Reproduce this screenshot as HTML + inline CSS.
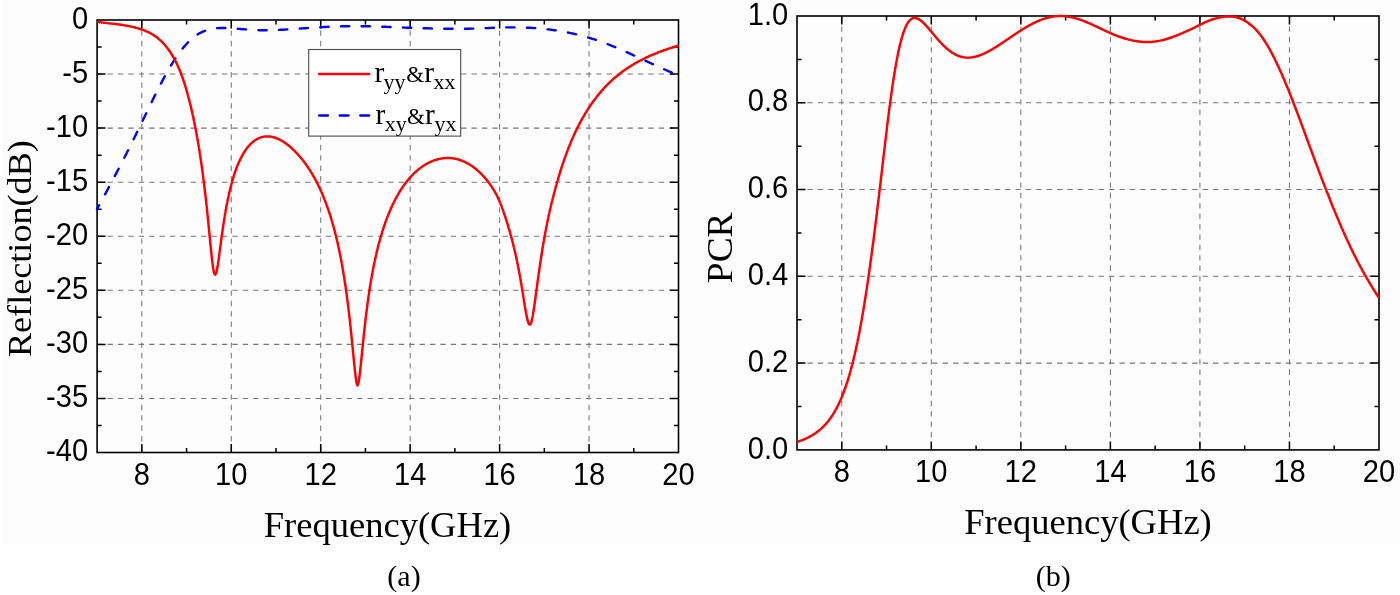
<!DOCTYPE html>
<html lang="en"><head><meta charset="utf-8"><title>Reflection and PCR</title>
<style>
html,body{margin:0;padding:0;background:#fff;}
body{width:1400px;height:595px;overflow:hidden;}
svg{display:block;}
.sa{font-family:"Liberation Sans",Arial,sans-serif;font-size:30.5px;fill:#000;}
.se{font-family:"Liberation Serif","Times New Roman",serif;fill:#000;}
</style></head><body>
<svg width="1400" height="595" viewBox="0 0 1400 595">
<rect width="1400" height="595" fill="#fff"/>
<rect x="2" y="0" width="1398" height="544.5" fill="#fdfdfd"/>
<path d="M141.82,20.0V452.5M231.27,20.0V452.5M320.72,20.0V452.5M410.16,20.0V452.5M499.61,20.0V452.5M589.05,20.0V452.5M97.1,74.06H678.5M97.1,128.12H678.5M97.1,182.19H678.5M97.1,236.25H678.5M97.1,290.31H678.5M97.1,344.38H678.5M97.1,398.44H678.5" stroke="#777" stroke-width="1.05" stroke-dasharray="5.4 5" fill="none"/>
<path d="M141.82,452.5v-8.5M141.82,20.0v8.5M231.27,452.5v-8.5M231.27,20.0v8.5M320.72,452.5v-8.5M320.72,20.0v8.5M410.16,452.5v-8.5M410.16,20.0v8.5M499.61,452.5v-8.5M499.61,20.0v8.5M589.05,452.5v-8.5M589.05,20.0v8.5M186.55,452.5v-4.5M186.55,20.0v4.5M275.99,452.5v-4.5M275.99,20.0v4.5M365.44,452.5v-4.5M365.44,20.0v4.5M454.88,452.5v-4.5M454.88,20.0v4.5M544.33,452.5v-4.5M544.33,20.0v4.5M633.78,452.5v-4.5M633.78,20.0v4.5M97.1,74.06h8.5M678.5,74.06h-8.5M97.1,128.12h8.5M678.5,128.12h-8.5M97.1,182.19h8.5M678.5,182.19h-8.5M97.1,236.25h8.5M678.5,236.25h-8.5M97.1,290.31h8.5M678.5,290.31h-8.5M97.1,344.38h8.5M678.5,344.38h-8.5M97.1,398.44h8.5M678.5,398.44h-8.5M97.1,47.03h4.5M678.5,47.03h-4.5M97.1,101.09h4.5M678.5,101.09h-4.5M97.1,155.16h4.5M678.5,155.16h-4.5M97.1,209.22h4.5M678.5,209.22h-4.5M97.1,263.28h4.5M678.5,263.28h-4.5M97.1,317.34h4.5M678.5,317.34h-4.5M97.1,371.41h4.5M678.5,371.41h-4.5M97.1,425.47h4.5M678.5,425.47h-4.5" stroke="#000" stroke-width="1.5" fill="none"/>
<rect x="97.1" y="20.0" width="581.4" height="432.5" fill="none" stroke="#000" stroke-width="1.6"/>
<path d="M97.1,209.1 L97.5,208.4 L97.9,207.7 L98.2,206.9 L98.6,206.2 L99.0,205.5 L99.4,204.8 L99.8,204.1 L100.1,203.4 L100.5,202.7 L100.9,202.0 L101.3,201.3 L101.7,200.6 L102.1,199.9 L102.4,199.2 L102.8,198.5 L103.2,197.8 L103.6,197.1 L104.0,196.4 L104.3,195.7 L104.7,195.0 L105.1,194.3 L105.5,193.6 L105.8,192.9 L106.2,192.2 L106.6,191.5 L107.0,190.8 L107.4,190.1 L107.7,189.3 L108.1,188.6 L108.5,187.9 L108.9,187.2 L109.2,186.5 L109.6,185.8 L110.0,185.1 L110.4,184.4 L110.8,183.7 L111.1,183.0 L111.5,182.3 L111.9,181.6 L112.3,180.9 L112.6,180.2 L113.0,179.5 L113.4,178.8 L113.8,178.0 L114.1,177.3 L114.5,176.6 L114.9,175.9 L115.2,175.2 L115.6,174.5 L116.0,173.8 L116.4,173.1 L116.7,172.4 L117.1,171.7 L117.5,171.0 L117.8,170.3 L118.2,169.5 L118.6,168.8 L119.0,168.1 L119.3,167.4 L119.7,166.7 L120.1,166.0 L120.4,165.3 L120.8,164.6 L121.2,163.9 L121.5,163.2 L121.9,162.4 L122.3,161.7 L122.6,161.0 L123.0,160.3 L123.4,159.6 L123.7,158.9 L124.1,158.2 L124.4,157.5 L124.8,156.7 L125.2,156.0 L125.5,155.3 L125.9,154.6 L126.3,153.9 L126.6,153.2 L127.0,152.5 L127.3,151.7 L127.7,151.0 L128.1,150.3 L128.4,149.6 L128.8,148.9 L129.1,148.2 L129.5,147.5 L129.8,146.7 L130.2,146.0 L130.6,145.3 L130.9,144.6 L131.3,143.9 L131.6,143.2 L132.0,142.4 L132.3,141.7 L132.7,141.0 L133.1,140.3 L133.4,139.6 L133.8,138.9 L134.1,138.1 L134.5,137.4 L134.8,136.7 L135.2,136.0 L135.5,135.3 L135.9,134.6 L136.2,133.8 L136.6,133.1 L136.9,132.4 L137.3,131.7 L137.6,131.0 L138.0,130.2 L138.3,129.5 L138.7,128.8 L139.0,128.1 L139.4,127.4 L139.7,126.6 L140.1,125.9 L140.4,125.2 L140.8,124.5 L141.1,123.8 L141.5,123.0 L141.8,122.3 L142.2,121.6 L142.5,120.9 L142.9,120.2 L143.2,119.4 L143.6,118.7 L143.9,118.0 L144.3,117.3 L144.6,116.6 L145.0,115.8 L145.3,115.1 L145.7,114.4 L146.0,113.7 L146.4,113.0 L146.7,112.2 L147.1,111.5 L147.4,110.8 L147.8,110.1 L148.1,109.4 L148.5,108.6 L148.8,107.9 L149.2,107.2 L149.5,106.5 L149.9,105.8 L150.2,105.0 L150.6,104.3 L150.9,103.6 L151.3,102.9 L151.6,102.2 L152.0,101.5 L152.3,100.7 L152.7,100.0 L153.0,99.3 L153.4,98.6 L153.7,97.9 L154.1,97.1 L154.4,96.4 L154.8,95.7 L155.1,95.0 L155.5,94.3 L155.9,93.6 L156.2,92.8 L156.6,92.1 L156.9,91.4 L157.3,90.7 L157.7,90.0 L158.0,89.3 L158.4,88.6 L158.7,87.9 L159.1,87.1 L159.5,86.4 L159.8,85.7 L160.2,85.0 L160.6,84.3 L160.9,83.6 L161.3,82.9 L161.7,82.2 L162.1,81.5 L162.4,80.7 L162.8,80.0 L163.2,79.3 L163.6,78.6 L163.9,77.9 L164.3,77.2 L164.7,76.5 L165.1,75.8 L165.5,75.1 L165.8,74.4 L166.2,73.7 L166.6,73.0 L167.0,72.3 L167.4,71.6 L167.8,70.9 L168.2,70.2 L168.6,69.5 L169.0,68.8 L169.4,68.2 L169.8,67.5 L170.2,66.8 L170.6,66.1 L171.0,65.4 L171.4,64.7 L171.9,64.0 L172.3,63.3 L172.7,62.7 L173.1,62.0 L173.6,61.3 L174.0,60.6 L174.4,60.0 L174.8,59.3 L175.3,58.6 L175.7,58.0 L176.2,57.3 L176.6,56.6 L177.1,56.0 L177.5,55.3 L178.0,54.7 L178.4,54.0 L178.9,53.4 L179.4,52.7 L179.9,52.1 L180.3,51.4 L180.8,50.8 L181.3,50.1 L181.8,49.5 L182.3,48.9 L182.8,48.3 L183.3,47.6 L183.8,47.0 L184.3,46.4 L184.9,45.8 L185.4,45.2 L185.9,44.6 L186.5,44.0 L187.0,43.4 L187.5,42.9 L188.1,42.3 L188.7,41.7 L189.2,41.2 L189.8,40.6 L190.4,40.1 L191.0,39.5 L191.6,39.0 L192.2,38.5 L192.8,38.0 L193.4,37.5 L194.1,37.0 L194.7,36.5 L195.3,36.0 L196.0,35.5 L196.7,35.1 L197.3,34.6 L198.0,34.2 L198.7,33.8 L199.4,33.4 L200.1,33.0 L200.8,32.6 L201.5,32.3 L202.2,31.9 L202.9,31.6 L203.7,31.3 L204.4,31.0 L205.2,30.7 L205.9,30.4 L206.7,30.2 L207.4,29.9 L208.2,29.7 L209.0,29.5 L209.8,29.3 L210.5,29.1 L211.3,28.9 L212.1,28.8 L212.9,28.7 L213.7,28.5 L214.5,28.4 L215.3,28.3 L216.1,28.3 L216.9,28.2 L217.7,28.1 L218.5,28.1 L219.3,28.0 L220.1,28.0 L220.9,28.0 L221.7,28.0 L222.3,28.0 L222.5,28.0 L223.3,28.0 L224.1,28.0 L224.9,28.0 L225.7,28.0 L226.5,28.1 L227.3,28.1 L228.1,28.1 L228.9,28.2 L229.7,28.2 L230.5,28.3 L231.2,28.3 L232.0,28.4 L232.8,28.4 L233.6,28.5 L234.4,28.5 L235.2,28.6 L236.0,28.7 L236.8,28.7 L237.6,28.8 L238.4,28.9 L239.2,28.9 L240.0,29.0 L240.8,29.0 L241.6,29.1 L242.4,29.2 L243.2,29.2 L244.0,29.3 L244.8,29.4 L245.6,29.4 L246.4,29.5 L247.2,29.6 L248.0,29.6 L248.8,29.7 L249.6,29.7 L250.4,29.8 L251.2,29.8 L252.0,29.9 L252.8,29.9 L253.6,30.0 L254.4,30.0 L255.2,30.0 L256.0,30.1 L256.8,30.1 L257.6,30.1 L258.4,30.1 L259.2,30.2 L260.0,30.2 L260.8,30.2 L261.6,30.2 L262.4,30.2 L263.2,30.2 L264.0,30.2 L264.6,30.2 L264.8,30.2 L265.6,30.2 L266.4,30.2 L267.2,30.2 L268.0,30.2 L268.8,30.2 L269.6,30.2 L270.4,30.2 L271.2,30.1 L272.0,30.1 L272.8,30.1 L273.6,30.1 L274.4,30.1 L275.2,30.0 L276.0,30.0 L276.8,30.0 L277.6,29.9 L278.4,29.9 L279.2,29.9 L280.0,29.8 L280.8,29.8 L281.6,29.7 L282.4,29.7 L283.2,29.7 L284.0,29.6 L284.8,29.6 L285.6,29.5 L286.4,29.5 L287.2,29.4 L288.0,29.4 L288.8,29.3 L289.6,29.3 L290.4,29.2 L291.2,29.2 L292.0,29.1 L292.8,29.1 L293.6,29.0 L294.4,29.0 L295.1,28.9 L295.9,28.9 L296.7,28.8 L297.5,28.8 L298.3,28.7 L299.1,28.6 L299.9,28.6 L300.7,28.5 L301.5,28.5 L302.3,28.4 L303.1,28.4 L303.9,28.3 L304.7,28.3 L305.5,28.2 L306.3,28.1 L307.1,28.1 L307.9,28.0 L308.7,28.0 L309.5,27.9 L310.3,27.9 L311.1,27.8 L311.9,27.8 L312.7,27.7 L313.5,27.7 L314.3,27.6 L315.1,27.6 L315.9,27.5 L316.7,27.5 L317.5,27.4 L318.3,27.4 L319.1,27.3 L319.9,27.3 L320.7,27.2 L321.5,27.2 L322.3,27.1 L323.1,27.1 L323.9,27.0 L324.7,27.0 L325.5,27.0 L326.3,26.9 L327.1,26.9 L327.9,26.8 L328.7,26.8 L329.5,26.8 L330.3,26.7 L331.1,26.7 L331.9,26.7 L332.7,26.6 L333.5,26.6 L334.3,26.6 L335.1,26.5 L335.9,26.5 L336.7,26.5 L337.5,26.5 L338.3,26.4 L339.1,26.4 L339.9,26.4 L340.7,26.4 L341.5,26.3 L342.3,26.3 L343.1,26.3 L343.9,26.3 L344.7,26.3 L345.5,26.3 L346.3,26.2 L347.1,26.2 L347.9,26.2 L348.7,26.2 L349.5,26.2 L350.3,26.2 L351.1,26.2 L351.9,26.2 L352.7,26.2 L353.5,26.2 L354.3,26.2 L355.1,26.2 L355.2,26.2 L355.9,26.2 L356.7,26.2 L357.5,26.2 L358.3,26.2 L359.1,26.2 L359.9,26.2 L360.7,26.2 L361.5,26.2 L362.3,26.2 L363.1,26.2 L363.9,26.2 L364.7,26.3 L365.5,26.3 L366.3,26.3 L367.1,26.3 L367.9,26.3 L368.7,26.3 L369.5,26.3 L370.3,26.4 L371.1,26.4 L371.9,26.4 L372.7,26.4 L373.5,26.4 L374.3,26.5 L375.1,26.5 L375.9,26.5 L376.7,26.5 L377.5,26.6 L378.3,26.6 L379.1,26.6 L379.9,26.6 L380.7,26.7 L381.5,26.7 L382.3,26.7 L383.1,26.8 L383.9,26.8 L384.7,26.8 L385.5,26.8 L386.3,26.9 L387.1,26.9 L387.9,26.9 L388.7,27.0 L389.5,27.0 L390.3,27.0 L391.1,27.1 L391.9,27.1 L392.7,27.1 L393.5,27.2 L394.3,27.2 L395.1,27.2 L395.9,27.2 L396.7,27.3 L397.5,27.3 L398.3,27.3 L399.1,27.4 L399.9,27.4 L400.7,27.4 L401.5,27.5 L402.2,27.5 L403.0,27.5 L403.8,27.6 L404.6,27.6 L405.4,27.6 L406.2,27.6 L407.0,27.7 L407.8,27.7 L408.6,27.7 L409.4,27.8 L410.2,27.8 L411.0,27.8 L411.8,27.8 L412.6,27.9 L413.4,27.9 L414.2,27.9 L415.0,28.0 L415.8,28.0 L416.6,28.0 L417.4,28.0 L418.2,28.1 L419.0,28.1 L419.8,28.1 L420.6,28.1 L421.4,28.2 L422.2,28.2 L423.0,28.2 L423.8,28.2 L424.6,28.3 L425.4,28.3 L426.2,28.3 L427.0,28.3 L427.8,28.3 L428.6,28.4 L429.4,28.4 L430.2,28.4 L431.0,28.4 L431.8,28.5 L432.6,28.5 L433.4,28.5 L434.2,28.5 L435.0,28.5 L435.8,28.6 L436.6,28.6 L437.4,28.6 L438.2,28.6 L439.0,28.6 L439.8,28.6 L440.6,28.7 L441.4,28.7 L442.2,28.7 L443.0,28.7 L443.8,28.7 L444.6,28.7 L445.4,28.7 L446.2,28.7 L447.0,28.8 L447.8,28.8 L448.6,28.8 L449.4,28.8 L450.2,28.8 L451.0,28.8 L451.8,28.8 L452.6,28.8 L453.4,28.8 L454.2,28.8 L455.0,28.8 L455.6,28.8 L455.8,28.8 L456.6,28.8 L457.4,28.8 L458.2,28.8 L459.0,28.8 L459.8,28.8 L460.6,28.8 L461.4,28.8 L462.2,28.8 L463.0,28.8 L463.8,28.8 L464.6,28.7 L465.4,28.7 L466.2,28.7 L467.0,28.7 L467.8,28.7 L468.6,28.7 L469.4,28.7 L470.2,28.6 L471.0,28.6 L471.8,28.6 L472.6,28.6 L473.4,28.6 L474.2,28.5 L475.0,28.5 L475.8,28.5 L476.6,28.5 L477.4,28.5 L478.2,28.4 L479.0,28.4 L479.8,28.4 L480.6,28.3 L481.4,28.3 L482.2,28.3 L483.0,28.3 L483.8,28.2 L484.6,28.2 L485.4,28.2 L486.2,28.1 L487.0,28.1 L487.8,28.1 L488.6,28.0 L489.4,28.0 L490.2,28.0 L491.0,27.9 L491.8,27.9 L492.6,27.9 L493.4,27.8 L494.2,27.8 L495.0,27.8 L495.8,27.7 L496.6,27.7 L497.4,27.7 L498.2,27.7 L499.0,27.6 L499.8,27.6 L500.6,27.6 L501.4,27.5 L502.2,27.5 L503.0,27.5 L503.8,27.5 L504.6,27.5 L505.4,27.4 L506.2,27.4 L507.0,27.4 L507.8,27.4 L508.6,27.4 L509.4,27.4 L510.2,27.4 L511.0,27.4 L511.8,27.4 L512.6,27.4 L513.2,27.4 L513.4,27.4 L514.2,27.4 L515.0,27.4 L515.8,27.4 L516.6,27.4 L517.4,27.4 L518.2,27.4 L519.0,27.4 L519.8,27.4 L520.6,27.4 L521.4,27.5 L522.2,27.5 L523.0,27.5 L523.8,27.5 L524.6,27.6 L525.4,27.6 L526.2,27.6 L527.0,27.7 L527.8,27.7 L528.6,27.7 L529.4,27.8 L530.2,27.8 L531.0,27.9 L531.8,27.9 L532.6,28.0 L533.4,28.0 L534.2,28.1 L535.0,28.1 L535.8,28.2 L536.6,28.2 L537.4,28.3 L538.2,28.4 L539.0,28.4 L539.8,28.5 L540.6,28.6 L541.4,28.7 L542.2,28.7 L543.0,28.8 L543.8,28.9 L544.6,29.0 L545.3,29.1 L546.1,29.2 L546.9,29.3 L547.7,29.4 L548.5,29.4 L549.3,29.5 L550.1,29.6 L550.9,29.7 L551.7,29.9 L552.5,30.0 L553.3,30.1 L554.1,30.2 L554.9,30.3 L555.7,30.4 L556.5,30.5 L557.2,30.6 L558.0,30.8 L558.8,30.9 L559.6,31.0 L560.4,31.1 L561.2,31.3 L562.0,31.4 L562.8,31.5 L563.6,31.7 L564.3,31.8 L565.1,32.0 L565.9,32.1 L566.7,32.3 L567.5,32.4 L568.3,32.6 L569.1,32.7 L569.8,32.9 L570.6,33.1 L571.4,33.2 L572.2,33.4 L573.0,33.6 L573.8,33.7 L574.5,33.9 L575.3,34.1 L576.1,34.3 L576.9,34.5 L577.6,34.6 L578.4,34.8 L579.2,35.0 L580.0,35.2 L580.7,35.4 L581.5,35.6 L582.3,35.8 L583.1,36.0 L583.8,36.3 L584.6,36.5 L585.4,36.7 L586.1,36.9 L586.9,37.1 L587.7,37.4 L588.5,37.6 L589.2,37.8 L590.0,38.0 L590.7,38.3 L591.5,38.5 L592.3,38.8 L593.0,39.0 L593.8,39.2 L594.6,39.5 L595.3,39.7 L596.1,40.0 L596.8,40.3 L597.6,40.5 L598.4,40.8 L599.1,41.0 L599.9,41.3 L600.6,41.6 L601.4,41.8 L602.1,42.1 L602.9,42.4 L603.6,42.7 L604.4,42.9 L605.1,43.2 L605.9,43.5 L606.6,43.8 L607.4,44.1 L608.1,44.3 L608.9,44.6 L609.6,44.9 L610.4,45.2 L611.1,45.5 L611.8,45.8 L612.6,46.1 L613.3,46.4 L614.1,46.7 L614.8,47.0 L615.5,47.3 L616.3,47.6 L617.0,47.9 L617.8,48.3 L618.5,48.6 L619.2,48.9 L620.0,49.2 L620.7,49.5 L621.4,49.8 L622.2,50.1 L622.9,50.5 L623.6,50.8 L624.4,51.1 L625.1,51.4 L625.8,51.8 L626.6,52.1 L627.3,52.4 L628.0,52.7 L628.7,53.1 L629.5,53.4 L630.2,53.7 L630.9,54.1 L631.7,54.4 L632.4,54.7 L633.1,55.1 L633.8,55.4 L634.6,55.7 L635.3,56.1 L636.0,56.4 L636.8,56.7 L637.5,57.1 L638.2,57.4 L638.9,57.7 L639.7,58.1 L640.4,58.4 L641.1,58.7 L641.8,59.1 L642.6,59.4 L643.3,59.8 L644.0,60.1 L644.7,60.4 L645.5,60.8 L646.2,61.1 L646.9,61.4 L647.6,61.8 L648.4,62.1 L649.1,62.4 L649.8,62.8 L650.5,63.1 L651.3,63.4 L652.0,63.8 L652.7,64.1 L653.5,64.4 L654.2,64.8 L654.9,65.1 L655.6,65.4 L656.4,65.8 L657.1,66.1 L657.8,66.4 L658.6,66.8 L659.3,67.1 L660.0,67.4 L660.7,67.7 L661.5,68.1 L662.2,68.4 L662.9,68.7 L663.7,69.0 L664.4,69.4 L665.1,69.7 L665.9,70.0 L666.6,70.3 L667.3,70.6 L668.1,71.0 L668.8,71.3 L669.5,71.6 L670.3,71.9 L671.0,72.2 L671.7,72.5 L672.5,72.8 L673.2,73.2 L674.0,73.5 L674.7,73.8 L675.4,74.1 L676.2,74.4 L676.9,74.7 L677.6,75.0 L678.4,75.4 L678.5,75.4" fill="none" stroke="#0000ff" stroke-width="2.4" stroke-dasharray="8.3 12.4" stroke-dashoffset="3.88" stroke-linecap="round" stroke-linejoin="round"/>
<path d="M97.1,21.9 L97.9,22.0 L98.7,22.1 L99.5,22.2 L100.3,22.3 L101.1,22.4 L101.9,22.5 L102.7,22.6 L103.5,22.7 L104.3,22.8 L105.0,22.8 L105.8,22.9 L106.6,23.0 L107.4,23.1 L108.2,23.2 L109.0,23.3 L109.8,23.4 L110.6,23.5 L111.4,23.6 L112.2,23.6 L113.0,23.7 L113.8,23.8 L114.6,23.9 L115.4,24.0 L116.2,24.1 L117.0,24.2 L117.8,24.3 L118.6,24.4 L119.3,24.5 L120.1,24.7 L120.9,24.8 L121.7,24.9 L122.5,25.0 L123.3,25.1 L124.1,25.3 L124.9,25.4 L125.7,25.5 L126.5,25.7 L127.2,25.8 L128.0,25.9 L128.8,26.1 L129.6,26.3 L130.4,26.4 L131.2,26.6 L132.0,26.8 L132.7,26.9 L133.5,27.1 L134.3,27.3 L135.1,27.5 L135.8,27.7 L136.6,27.9 L137.4,28.1 L138.2,28.3 L138.9,28.6 L139.7,28.8 L140.4,29.0 L141.2,29.3 L142.0,29.5 L142.7,29.8 L143.5,30.1 L144.2,30.4 L145.0,30.7 L145.7,31.0 L146.4,31.3 L147.2,31.6 L147.9,31.9 L148.6,32.3 L149.3,32.7 L150.0,33.0 L150.7,33.4 L151.4,33.8 L152.1,34.2 L152.8,34.6 L153.5,35.0 L154.2,35.5 L154.8,35.9 L155.5,36.4 L156.1,36.9 L156.8,37.3 L157.4,37.8 L158.0,38.3 L158.6,38.8 L159.2,39.4 L159.8,39.9 L160.4,40.4 L161.0,41.0 L161.6,41.5 L162.2,42.1 L162.7,42.7 L163.3,43.3 L163.8,43.8 L164.3,44.4 L164.9,45.0 L165.4,45.6 L165.9,46.3 L166.4,46.9 L166.9,47.5 L167.4,48.1 L167.9,48.8 L168.4,49.4 L168.8,50.1 L169.3,50.7 L169.7,51.4 L170.2,52.0 L170.6,52.7 L171.1,53.4 L171.5,54.1 L171.9,54.7 L172.3,55.4 L172.7,56.1 L173.1,56.8 L173.5,57.5 L173.9,58.2 L174.3,58.9 L174.7,59.6 L175.1,60.3 L175.4,61.0 L175.8,61.7 L176.2,62.4 L176.5,63.2 L176.9,63.9 L177.2,64.6 L177.5,65.3 L177.9,66.1 L178.2,66.8 L178.5,67.5 L178.8,68.3 L179.2,69.0 L179.5,69.7 L179.8,70.5 L180.1,71.2 L180.4,71.9 L180.7,72.7 L181.0,73.4 L181.2,74.2 L181.5,74.9 L181.8,75.7 L182.1,76.4 L182.3,77.2 L182.6,77.9 L182.9,78.7 L183.1,79.5 L183.4,80.2 L183.7,81.0 L183.9,81.7 L184.2,82.5 L184.4,83.2 L184.6,84.0 L184.9,84.8 L185.1,85.5 L185.4,86.3 L185.6,87.1 L185.8,87.8 L186.1,88.6 L186.3,89.4 L186.5,90.1 L186.7,90.9 L186.9,91.7 L187.2,92.4 L187.4,93.2 L187.6,94.0 L187.8,94.8 L188.0,95.5 L188.2,96.3 L188.4,97.1 L188.6,97.8 L188.8,98.6 L189.0,99.4 L189.2,100.2 L189.4,100.9 L189.6,101.7 L189.8,102.5 L190.0,103.3 L190.2,104.1 L190.4,104.8 L190.6,105.6 L190.8,106.4 L190.9,107.2 L191.1,107.9 L191.3,108.7 L191.5,109.5 L191.7,110.3 L191.8,111.1 L192.0,111.8 L192.2,112.6 L192.4,113.4 L192.5,114.2 L192.7,115.0 L192.9,115.7 L193.1,116.5 L193.2,117.3 L193.4,118.1 L193.6,118.9 L193.7,119.7 L193.9,120.4 L194.0,121.2 L194.2,122.0 L194.4,122.8 L194.5,123.6 L194.7,124.4 L194.8,125.1 L195.0,125.9 L195.2,126.7 L195.3,127.5 L195.5,128.3 L195.6,129.1 L195.8,129.9 L195.9,130.6 L196.1,131.4 L196.2,132.2 L196.4,133.0 L196.5,133.8 L196.6,134.6 L196.8,135.4 L196.9,136.1 L197.1,136.9 L197.2,137.7 L197.4,138.5 L197.5,139.3 L197.6,140.1 L197.8,140.9 L197.9,141.7 L198.0,142.5 L198.2,143.2 L198.3,144.0 L198.4,144.8 L198.6,145.6 L198.7,146.4 L198.8,147.2 L199.0,148.0 L199.1,148.8 L199.2,149.6 L199.3,150.3 L199.5,151.1 L199.6,151.9 L199.7,152.7 L199.8,153.5 L200.0,154.3 L200.1,155.1 L200.2,155.9 L200.3,156.7 L200.5,157.5 L200.6,158.2 L200.7,159.0 L200.8,159.8 L200.9,160.6 L201.0,161.4 L201.2,162.2 L201.3,163.0 L201.4,163.8 L201.5,164.6 L201.6,165.4 L201.7,166.2 L201.8,167.0 L201.9,167.8 L202.1,168.5 L202.2,169.3 L202.3,170.1 L202.4,170.9 L202.5,171.7 L202.6,172.5 L202.7,173.3 L202.8,174.1 L202.9,174.9 L203.0,175.7 L203.1,176.5 L203.2,177.3 L203.3,178.1 L203.4,178.9 L203.5,179.6 L203.6,180.4 L203.7,181.2 L203.8,182.0 L203.9,182.8 L204.0,183.6 L204.1,184.4 L204.2,185.2 L204.3,186.0 L204.4,186.8 L204.5,187.6 L204.6,188.4 L204.7,189.2 L204.8,190.0 L204.9,190.8 L205.0,191.6 L205.1,192.4 L205.2,193.1 L205.3,193.9 L205.4,194.7 L205.5,195.5 L205.5,196.3 L205.6,197.1 L205.7,197.9 L205.8,198.7 L205.9,199.5 L206.0,200.3 L206.1,201.1 L206.2,201.9 L206.3,202.7 L206.3,203.5 L206.4,204.3 L206.5,205.1 L206.6,205.9 L206.7,206.7 L206.8,207.5 L206.9,208.3 L206.9,209.0 L207.0,209.8 L207.1,210.6 L207.2,211.4 L207.3,212.2 L207.4,213.0 L207.4,213.8 L207.5,214.6 L207.6,215.4 L207.7,216.2 L207.8,217.0 L207.8,217.8 L207.9,218.6 L208.0,219.4 L208.1,220.2 L208.2,221.0 L208.2,221.8 L208.3,222.6 L208.4,223.4 L208.5,224.2 L208.6,225.0 L208.6,225.8 L208.7,226.6 L208.8,227.4 L208.9,228.2 L208.9,228.9 L209.0,229.7 L209.1,230.5 L209.2,231.3 L209.3,232.1 L209.3,232.9 L209.4,233.7 L209.5,234.5 L209.6,235.3 L209.6,236.1 L209.7,236.9 L209.8,237.7 L209.9,238.5 L210.0,239.3 L210.0,240.1 L210.1,240.9 L210.2,241.7 L210.3,242.5 L210.3,243.3 L210.4,244.1 L210.5,244.9 L210.6,245.7 L210.7,246.5 L210.7,247.3 L210.8,248.1 L210.9,248.9 L211.0,249.6 L211.1,250.4 L211.1,251.2 L211.2,252.0 L211.3,252.8 L211.4,253.6 L211.5,254.4 L211.5,255.2 L211.6,256.0 L211.7,256.8 L211.8,257.6 L211.9,258.4 L212.0,259.2 L212.1,260.0 L212.2,260.8 L212.3,261.6 L212.4,262.4 L212.5,263.2 L212.6,264.0 L212.7,264.8 L212.8,265.5 L212.9,266.3 L213.0,267.1 L213.1,267.9 L213.2,268.7 L213.4,269.5 L213.5,270.3 L213.7,271.1 L213.8,271.9 L214.0,272.6 L214.3,273.4 L214.6,274.1 L215.2,274.6 L215.2,274.6 L215.7,274.0 L216.1,273.3 L216.3,272.6 L216.5,271.8 L216.7,271.0 L216.9,270.2 L217.1,269.4 L217.2,268.7 L217.3,267.9 L217.5,267.1 L217.6,266.3 L217.7,265.5 L217.9,264.7 L218.0,263.9 L218.1,263.1 L218.2,262.3 L218.3,261.5 L218.5,260.8 L218.6,260.0 L218.7,259.2 L218.8,258.4 L218.9,257.6 L219.0,256.8 L219.1,256.0 L219.2,255.2 L219.3,254.4 L219.4,253.6 L219.5,252.8 L219.6,252.0 L219.7,251.2 L219.8,250.5 L219.9,249.7 L220.0,248.9 L220.2,248.1 L220.3,247.3 L220.4,246.5 L220.5,245.7 L220.6,244.9 L220.7,244.1 L220.8,243.3 L220.9,242.5 L221.0,241.7 L221.1,240.9 L221.2,240.1 L221.3,239.3 L221.4,238.6 L221.5,237.8 L221.6,237.0 L221.7,236.2 L221.8,235.4 L222.0,234.6 L222.1,233.8 L222.2,233.0 L222.3,232.2 L222.4,231.4 L222.5,230.6 L222.6,229.8 L222.7,229.0 L222.9,228.3 L223.0,227.5 L223.1,226.7 L223.2,225.9 L223.3,225.1 L223.4,224.3 L223.6,223.5 L223.7,222.7 L223.8,221.9 L223.9,221.1 L224.1,220.3 L224.2,219.6 L224.3,218.8 L224.4,218.0 L224.6,217.2 L224.7,216.4 L224.8,215.6 L225.0,214.8 L225.1,214.0 L225.2,213.2 L225.4,212.5 L225.5,211.7 L225.6,210.9 L225.8,210.1 L225.9,209.3 L226.1,208.5 L226.2,207.7 L226.3,206.9 L226.5,206.2 L226.6,205.4 L226.8,204.6 L226.9,203.8 L227.1,203.0 L227.3,202.2 L227.4,201.4 L227.6,200.7 L227.7,199.9 L227.9,199.1 L228.1,198.3 L228.2,197.5 L228.4,196.7 L228.6,196.0 L228.7,195.2 L228.9,194.4 L229.1,193.6 L229.3,192.8 L229.4,192.1 L229.6,191.3 L229.8,190.5 L230.0,189.7 L230.2,188.9 L230.4,188.2 L230.6,187.4 L230.8,186.6 L231.0,185.8 L231.2,185.1 L231.4,184.3 L231.6,183.5 L231.8,182.8 L232.0,182.0 L232.2,181.2 L232.4,180.4 L232.7,179.7 L232.9,178.9 L233.1,178.1 L233.4,177.4 L233.6,176.6 L233.8,175.8 L234.1,175.1 L234.3,174.3 L234.6,173.6 L234.8,172.8 L235.1,172.1 L235.4,171.3 L235.6,170.5 L235.9,169.8 L236.2,169.0 L236.4,168.3 L236.7,167.5 L237.0,166.8 L237.3,166.0 L237.6,165.3 L237.9,164.6 L238.2,163.8 L238.5,163.1 L238.9,162.4 L239.2,161.6 L239.5,160.9 L239.9,160.2 L240.2,159.5 L240.5,158.7 L240.9,158.0 L241.3,157.3 L241.6,156.6 L242.0,155.9 L242.4,155.2 L242.8,154.5 L243.2,153.8 L243.6,153.1 L244.0,152.4 L244.5,151.8 L244.9,151.1 L245.3,150.4 L245.8,149.8 L246.3,149.1 L246.7,148.5 L247.2,147.8 L247.7,147.2 L248.2,146.6 L248.7,146.0 L249.3,145.4 L249.8,144.8 L250.4,144.2 L250.9,143.7 L251.5,143.1 L252.1,142.6 L252.7,142.0 L253.3,141.5 L254.0,141.1 L254.6,140.6 L255.3,140.1 L256.0,139.7 L256.6,139.3 L257.3,138.9 L258.1,138.6 L258.8,138.2 L259.5,137.9 L260.3,137.6 L261.0,137.4 L261.8,137.1 L262.6,136.9 L263.4,136.8 L264.1,136.6 L264.9,136.5 L265.7,136.5 L266.5,136.4 L267.3,136.4 L267.3,136.4 L268.1,136.4 L268.9,136.5 L269.7,136.5 L270.5,136.6 L271.3,136.8 L272.1,136.9 L272.9,137.1 L273.7,137.3 L274.4,137.5 L275.2,137.8 L275.9,138.0 L276.7,138.3 L277.4,138.6 L278.2,138.9 L278.9,139.3 L279.6,139.6 L280.3,140.0 L281.0,140.4 L281.7,140.7 L282.4,141.2 L283.1,141.6 L283.8,142.0 L284.4,142.4 L285.1,142.9 L285.7,143.4 L286.4,143.8 L287.0,144.3 L287.7,144.8 L288.3,145.3 L288.9,145.8 L289.5,146.3 L290.1,146.8 L290.7,147.3 L291.3,147.9 L291.9,148.4 L292.5,149.0 L293.1,149.5 L293.7,150.1 L294.3,150.6 L294.8,151.2 L295.4,151.7 L295.9,152.3 L296.5,152.9 L297.0,153.5 L297.6,154.1 L298.1,154.7 L298.7,155.3 L299.2,155.9 L299.7,156.5 L300.2,157.1 L300.7,157.7 L301.3,158.3 L301.8,158.9 L302.3,159.5 L302.8,160.2 L303.3,160.8 L303.7,161.4 L304.2,162.1 L304.7,162.7 L305.2,163.4 L305.7,164.0 L306.1,164.6 L306.6,165.3 L307.0,166.0 L307.5,166.6 L307.9,167.3 L308.4,167.9 L308.8,168.6 L309.3,169.3 L309.7,170.0 L310.1,170.6 L310.6,171.3 L311.0,172.0 L311.4,172.7 L311.8,173.4 L312.2,174.0 L312.6,174.7 L313.0,175.4 L313.4,176.1 L313.8,176.8 L314.2,177.5 L314.6,178.2 L315.0,178.9 L315.4,179.6 L315.7,180.3 L316.1,181.0 L316.5,181.7 L316.9,182.4 L317.2,183.2 L317.6,183.9 L317.9,184.6 L318.3,185.3 L318.6,186.0 L319.0,186.7 L319.3,187.5 L319.7,188.2 L320.0,188.9 L320.3,189.6 L320.7,190.4 L321.0,191.1 L321.3,191.8 L321.7,192.6 L322.0,193.3 L322.3,194.0 L322.6,194.8 L322.9,195.5 L323.2,196.2 L323.5,197.0 L323.8,197.7 L324.1,198.5 L324.4,199.2 L324.7,200.0 L325.0,200.7 L325.3,201.4 L325.6,202.2 L325.9,202.9 L326.1,203.7 L326.4,204.4 L326.7,205.2 L327.0,205.9 L327.2,206.7 L327.5,207.4 L327.8,208.2 L328.0,209.0 L328.3,209.7 L328.6,210.5 L328.8,211.2 L329.1,212.0 L329.3,212.7 L329.6,213.5 L329.8,214.3 L330.1,215.0 L330.3,215.8 L330.5,216.6 L330.8,217.3 L331.0,218.1 L331.2,218.9 L331.5,219.6 L331.7,220.4 L331.9,221.1 L332.2,221.9 L332.4,222.7 L332.6,223.5 L332.8,224.2 L333.0,225.0 L333.3,225.8 L333.5,226.5 L333.7,227.3 L333.9,228.1 L334.1,228.9 L334.3,229.6 L334.5,230.4 L334.7,231.2 L334.9,231.9 L335.1,232.7 L335.3,233.5 L335.5,234.3 L335.7,235.0 L335.9,235.8 L336.1,236.6 L336.3,237.4 L336.5,238.2 L336.6,238.9 L336.8,239.7 L337.0,240.5 L337.2,241.3 L337.4,242.1 L337.5,242.8 L337.7,243.6 L337.9,244.4 L338.1,245.2 L338.2,246.0 L338.4,246.7 L338.6,247.5 L338.8,248.3 L338.9,249.1 L339.1,249.9 L339.3,250.6 L339.4,251.4 L339.6,252.2 L339.7,253.0 L339.9,253.8 L340.1,254.6 L340.2,255.4 L340.4,256.1 L340.5,256.9 L340.7,257.7 L340.8,258.5 L341.0,259.3 L341.1,260.1 L341.3,260.8 L341.4,261.6 L341.6,262.4 L341.7,263.2 L341.9,264.0 L342.0,264.8 L342.1,265.6 L342.3,266.4 L342.4,267.1 L342.6,267.9 L342.7,268.7 L342.8,269.5 L343.0,270.3 L343.1,271.1 L343.2,271.9 L343.4,272.7 L343.5,273.5 L343.6,274.2 L343.7,275.0 L343.9,275.8 L344.0,276.6 L344.1,277.4 L344.3,278.2 L344.4,279.0 L344.5,279.8 L344.6,280.6 L344.7,281.4 L344.9,282.1 L345.0,282.9 L345.1,283.7 L345.2,284.5 L345.3,285.3 L345.5,286.1 L345.6,286.9 L345.7,287.7 L345.8,288.5 L345.9,289.3 L346.0,290.1 L346.1,290.9 L346.3,291.6 L346.4,292.4 L346.5,293.2 L346.6,294.0 L346.7,294.8 L346.8,295.6 L346.9,296.4 L347.0,297.2 L347.1,298.0 L347.2,298.8 L347.3,299.6 L347.4,300.4 L347.5,301.2 L347.6,302.0 L347.7,302.7 L347.8,303.5 L347.9,304.3 L348.0,305.1 L348.1,305.9 L348.2,306.7 L348.3,307.5 L348.4,308.3 L348.5,309.1 L348.6,309.9 L348.7,310.7 L348.8,311.5 L348.9,312.3 L349.0,313.1 L349.1,313.9 L349.2,314.7 L349.3,315.5 L349.4,316.3 L349.4,317.0 L349.5,317.8 L349.6,318.6 L349.7,319.4 L349.8,320.2 L349.9,321.0 L350.0,321.8 L350.1,322.6 L350.2,323.4 L350.2,324.2 L350.3,325.0 L350.4,325.8 L350.5,326.6 L350.6,327.4 L350.7,328.2 L350.7,329.0 L350.8,329.8 L350.9,330.6 L351.0,331.4 L351.1,332.2 L351.2,333.0 L351.2,333.7 L351.3,334.5 L351.4,335.3 L351.5,336.1 L351.6,336.9 L351.6,337.7 L351.7,338.5 L351.8,339.3 L351.9,340.1 L352.0,340.9 L352.0,341.7 L352.1,342.5 L352.2,343.3 L352.3,344.1 L352.4,344.9 L352.4,345.7 L352.5,346.5 L352.6,347.3 L352.7,348.1 L352.8,348.9 L352.8,349.7 L352.9,350.5 L353.0,351.3 L353.1,352.1 L353.1,352.9 L353.2,353.7 L353.3,354.4 L353.4,355.2 L353.4,356.0 L353.5,356.8 L353.6,357.6 L353.7,358.4 L353.8,359.2 L353.8,360.0 L353.9,360.8 L354.0,361.6 L354.1,362.4 L354.2,363.2 L354.2,364.0 L354.3,364.8 L354.4,365.6 L354.5,366.4 L354.6,367.2 L354.6,368.0 L354.7,368.8 L354.8,369.6 L354.9,370.4 L355.0,371.2 L355.1,372.0 L355.2,372.8 L355.3,373.5 L355.4,374.3 L355.5,375.1 L355.6,375.9 L355.7,376.7 L355.8,377.5 L355.9,378.3 L356.0,379.1 L356.1,379.9 L356.2,380.7 L356.4,381.5 L356.5,382.3 L356.7,383.0 L356.8,383.8 L357.1,384.6 L357.4,385.3 L357.4,385.4 L357.8,384.8 L358.1,384.1 L358.3,383.3 L358.5,382.5 L358.7,381.7 L358.8,380.9 L358.9,380.1 L359.1,379.4 L359.2,378.6 L359.3,377.8 L359.4,377.0 L359.5,376.2 L359.6,375.4 L359.7,374.6 L359.8,373.8 L359.9,373.0 L360.0,372.2 L360.1,371.4 L360.2,370.6 L360.3,369.8 L360.3,369.0 L360.4,368.2 L360.5,367.4 L360.6,366.7 L360.7,365.9 L360.8,365.1 L360.9,364.3 L360.9,363.5 L361.0,362.7 L361.1,361.9 L361.2,361.1 L361.3,360.3 L361.3,359.5 L361.4,358.7 L361.5,357.9 L361.6,357.1 L361.7,356.3 L361.7,355.5 L361.8,354.7 L361.9,353.9 L362.0,353.1 L362.1,352.3 L362.1,351.5 L362.2,350.7 L362.3,349.9 L362.4,349.1 L362.5,348.3 L362.5,347.5 L362.6,346.8 L362.7,346.0 L362.8,345.2 L362.9,344.4 L362.9,343.6 L363.0,342.8 L363.1,342.0 L363.2,341.2 L363.3,340.4 L363.4,339.6 L363.4,338.8 L363.5,338.0 L363.6,337.2 L363.7,336.4 L363.8,335.6 L363.9,334.8 L363.9,334.0 L364.0,333.2 L364.1,332.4 L364.2,331.6 L364.3,330.8 L364.4,330.0 L364.5,329.2 L364.5,328.5 L364.6,327.7 L364.7,326.9 L364.8,326.1 L364.9,325.3 L365.0,324.5 L365.1,323.7 L365.2,322.9 L365.3,322.1 L365.3,321.3 L365.4,320.5 L365.5,319.7 L365.6,318.9 L365.7,318.1 L365.8,317.3 L365.9,316.5 L366.0,315.7 L366.1,314.9 L366.2,314.1 L366.3,313.4 L366.4,312.6 L366.5,311.8 L366.6,311.0 L366.7,310.2 L366.8,309.4 L366.9,308.6 L367.0,307.8 L367.1,307.0 L367.2,306.2 L367.3,305.4 L367.4,304.6 L367.5,303.8 L367.6,303.0 L367.7,302.2 L367.8,301.5 L367.9,300.7 L368.1,299.9 L368.2,299.1 L368.3,298.3 L368.4,297.5 L368.5,296.7 L368.6,295.9 L368.7,295.1 L368.9,294.3 L369.0,293.5 L369.1,292.7 L369.2,292.0 L369.3,291.2 L369.4,290.4 L369.6,289.6 L369.7,288.8 L369.8,288.0 L369.9,287.2 L370.1,286.4 L370.2,285.6 L370.3,284.8 L370.4,284.1 L370.6,283.3 L370.7,282.5 L370.8,281.7 L371.0,280.9 L371.1,280.1 L371.2,279.3 L371.4,278.5 L371.5,277.7 L371.7,277.0 L371.8,276.2 L371.9,275.4 L372.1,274.6 L372.2,273.8 L372.4,273.0 L372.5,272.2 L372.7,271.4 L372.8,270.7 L373.0,269.9 L373.1,269.1 L373.3,268.3 L373.4,267.5 L373.6,266.7 L373.7,265.9 L373.9,265.2 L374.0,264.4 L374.2,263.6 L374.4,262.8 L374.5,262.0 L374.7,261.2 L374.9,260.5 L375.0,259.7 L375.2,258.9 L375.4,258.1 L375.5,257.3 L375.7,256.6 L375.9,255.8 L376.1,255.0 L376.3,254.2 L376.4,253.4 L376.6,252.7 L376.8,251.9 L377.0,251.1 L377.2,250.3 L377.4,249.5 L377.6,248.8 L377.7,248.0 L377.9,247.2 L378.1,246.4 L378.3,245.7 L378.5,244.9 L378.7,244.1 L378.9,243.3 L379.2,242.6 L379.4,241.8 L379.6,241.0 L379.8,240.3 L380.0,239.5 L380.2,238.7 L380.4,237.9 L380.7,237.2 L380.9,236.4 L381.1,235.6 L381.3,234.9 L381.6,234.1 L381.8,233.3 L382.0,232.6 L382.3,231.8 L382.5,231.0 L382.7,230.3 L383.0,229.5 L383.2,228.8 L383.5,228.0 L383.7,227.2 L384.0,226.5 L384.2,225.7 L384.5,225.0 L384.8,224.2 L385.0,223.5 L385.3,222.7 L385.5,221.9 L385.8,221.2 L386.1,220.4 L386.4,219.7 L386.6,218.9 L386.9,218.2 L387.2,217.4 L387.5,216.7 L387.8,216.0 L388.1,215.2 L388.4,214.5 L388.7,213.7 L389.0,213.0 L389.3,212.2 L389.6,211.5 L389.9,210.8 L390.2,210.0 L390.6,209.3 L390.9,208.6 L391.2,207.8 L391.5,207.1 L391.9,206.4 L392.2,205.7 L392.5,204.9 L392.9,204.2 L393.2,203.5 L393.6,202.8 L393.9,202.1 L394.3,201.3 L394.7,200.6 L395.0,199.9 L395.4,199.2 L395.8,198.5 L396.2,197.8 L396.5,197.1 L396.9,196.4 L397.3,195.7 L397.7,195.0 L398.1,194.3 L398.5,193.6 L398.9,192.9 L399.3,192.2 L399.8,191.6 L400.2,190.9 L400.6,190.2 L401.0,189.5 L401.5,188.9 L401.9,188.2 L402.4,187.5 L402.8,186.9 L403.3,186.2 L403.7,185.6 L404.2,184.9 L404.7,184.3 L405.1,183.6 L405.6,183.0 L406.1,182.3 L406.6,181.7 L407.1,181.1 L407.6,180.5 L408.1,179.8 L408.6,179.2 L409.1,178.6 L409.6,178.0 L410.2,177.4 L410.7,176.8 L411.3,176.2 L411.8,175.6 L412.4,175.1 L412.9,174.5 L413.5,173.9 L414.1,173.4 L414.6,172.8 L415.2,172.3 L415.8,171.7 L416.4,171.2 L417.0,170.7 L417.6,170.1 L418.2,169.6 L418.8,169.1 L419.5,168.6 L420.1,168.1 L420.7,167.7 L421.4,167.2 L422.0,166.7 L422.7,166.3 L423.4,165.8 L424.0,165.4 L424.7,165.0 L425.4,164.5 L426.1,164.1 L426.8,163.7 L427.5,163.4 L428.2,163.0 L428.9,162.6 L429.6,162.3 L430.3,161.9 L431.1,161.6 L431.8,161.3 L432.5,161.0 L433.3,160.7 L434.0,160.4 L434.8,160.2 L435.6,159.9 L436.3,159.7 L437.1,159.5 L437.9,159.2 L438.6,159.1 L439.4,158.9 L440.2,158.7 L441.0,158.6 L441.8,158.4 L442.6,158.3 L443.4,158.2 L444.2,158.2 L445.0,158.1 L445.8,158.0 L446.6,158.0 L447.4,158.0 L447.7,158.0 L448.2,158.0 L449.0,158.0 L449.8,158.0 L450.6,158.1 L451.4,158.2 L452.1,158.3 L452.9,158.4 L453.7,158.5 L454.5,158.6 L455.3,158.8 L456.1,158.9 L456.9,159.1 L457.6,159.3 L458.4,159.5 L459.2,159.8 L459.9,160.0 L460.7,160.3 L461.4,160.5 L462.2,160.8 L462.9,161.1 L463.7,161.4 L464.4,161.8 L465.1,162.1 L465.8,162.5 L466.6,162.8 L467.3,163.2 L468.0,163.6 L468.7,164.0 L469.3,164.4 L470.0,164.8 L470.7,165.3 L471.4,165.7 L472.0,166.1 L472.7,166.6 L473.3,167.1 L474.0,167.5 L474.6,168.0 L475.2,168.5 L475.9,169.0 L476.5,169.5 L477.1,170.0 L477.7,170.6 L478.3,171.1 L478.9,171.6 L479.5,172.2 L480.1,172.7 L480.6,173.3 L481.2,173.9 L481.8,174.4 L482.3,175.0 L482.9,175.6 L483.4,176.2 L483.9,176.8 L484.5,177.4 L485.0,178.0 L485.5,178.6 L486.0,179.2 L486.6,179.8 L487.1,180.4 L487.6,181.0 L488.1,181.7 L488.5,182.3 L489.0,182.9 L489.5,183.6 L490.0,184.2 L490.4,184.9 L490.9,185.5 L491.4,186.2 L491.8,186.9 L492.2,187.5 L492.7,188.2 L493.1,188.9 L493.5,189.5 L493.9,190.2 L494.4,190.9 L494.8,191.6 L495.1,192.3 L495.5,193.0 L495.9,193.7 L496.3,194.4 L496.7,195.1 L497.0,195.8 L497.4,196.6 L497.7,197.3 L498.1,198.0 L498.4,198.7 L498.7,199.5 L499.1,200.2 L499.4,200.9 L499.7,201.7 L500.0,202.4 L500.3,203.1 L500.6,203.9 L500.9,204.6 L501.2,205.4 L501.5,206.1 L501.8,206.9 L502.0,207.6 L502.3,208.4 L502.6,209.1 L502.9,209.9 L503.1,210.6 L503.4,211.4 L503.7,212.1 L503.9,212.9 L504.2,213.6 L504.4,214.4 L504.7,215.2 L504.9,215.9 L505.2,216.7 L505.4,217.4 L505.7,218.2 L505.9,219.0 L506.2,219.7 L506.4,220.5 L506.6,221.3 L506.9,222.0 L507.1,222.8 L507.4,223.5 L507.6,224.3 L507.8,225.1 L508.1,225.8 L508.3,226.6 L508.5,227.4 L508.7,228.1 L509.0,228.9 L509.2,229.7 L509.4,230.4 L509.6,231.2 L509.9,232.0 L510.1,232.7 L510.3,233.5 L510.5,234.3 L510.7,235.1 L510.9,235.8 L511.1,236.6 L511.4,237.4 L511.6,238.1 L511.8,238.9 L512.0,239.7 L512.2,240.5 L512.4,241.2 L512.6,242.0 L512.8,242.8 L513.0,243.6 L513.2,244.3 L513.4,245.1 L513.6,245.9 L513.7,246.7 L513.9,247.5 L514.1,248.2 L514.3,249.0 L514.5,249.8 L514.7,250.6 L514.9,251.3 L515.0,252.1 L515.2,252.9 L515.4,253.7 L515.6,254.5 L515.7,255.2 L515.9,256.0 L516.1,256.8 L516.3,257.6 L516.4,258.4 L516.6,259.2 L516.8,259.9 L516.9,260.7 L517.1,261.5 L517.2,262.3 L517.4,263.1 L517.6,263.9 L517.7,264.6 L517.9,265.4 L518.0,266.2 L518.2,267.0 L518.3,267.8 L518.5,268.6 L518.6,269.3 L518.8,270.1 L518.9,270.9 L519.1,271.7 L519.2,272.5 L519.4,273.3 L519.5,274.1 L519.7,274.9 L519.8,275.6 L520.0,276.4 L520.1,277.2 L520.2,278.0 L520.4,278.8 L520.5,279.6 L520.7,280.4 L520.8,281.2 L520.9,281.9 L521.1,282.7 L521.2,283.5 L521.3,284.3 L521.5,285.1 L521.6,285.9 L521.7,286.7 L521.9,287.5 L522.0,288.3 L522.1,289.0 L522.2,289.8 L522.4,290.6 L522.5,291.4 L522.6,292.2 L522.8,293.0 L522.9,293.8 L523.0,294.6 L523.1,295.4 L523.3,296.2 L523.4,296.9 L523.5,297.7 L523.6,298.5 L523.8,299.3 L523.9,300.1 L524.0,300.9 L524.1,301.7 L524.3,302.5 L524.4,303.3 L524.5,304.1 L524.7,304.8 L524.8,305.6 L524.9,306.4 L525.0,307.2 L525.2,308.0 L525.3,308.8 L525.4,309.6 L525.6,310.4 L525.7,311.2 L525.8,311.9 L526.0,312.7 L526.1,313.5 L526.3,314.3 L526.4,315.1 L526.6,315.9 L526.7,316.7 L526.9,317.4 L527.1,318.2 L527.3,319.0 L527.4,319.8 L527.6,320.6 L527.9,321.3 L528.1,322.1 L528.4,322.8 L528.7,323.6 L529.1,324.2 L529.8,324.6 L529.8,324.6 L530.4,324.1 L530.8,323.4 L531.1,322.7 L531.4,321.9 L531.6,321.2 L531.8,320.4 L532.0,319.6 L532.1,318.8 L532.3,318.0 L532.5,317.3 L532.6,316.5 L532.8,315.7 L532.9,314.9 L533.0,314.1 L533.2,313.3 L533.3,312.5 L533.4,311.7 L533.6,310.9 L533.7,310.2 L533.8,309.4 L533.9,308.6 L534.0,307.8 L534.2,307.0 L534.3,306.2 L534.4,305.4 L534.5,304.6 L534.6,303.8 L534.7,303.0 L534.8,302.2 L534.9,301.4 L535.1,300.7 L535.2,299.9 L535.3,299.1 L535.4,298.3 L535.5,297.5 L535.6,296.7 L535.7,295.9 L535.8,295.1 L535.9,294.3 L536.0,293.5 L536.1,292.7 L536.2,291.9 L536.3,291.1 L536.4,290.3 L536.6,289.6 L536.7,288.8 L536.8,288.0 L536.9,287.2 L537.0,286.4 L537.1,285.6 L537.2,284.8 L537.3,284.0 L537.4,283.2 L537.5,282.4 L537.6,281.6 L537.7,280.8 L537.8,280.0 L538.0,279.3 L538.1,278.5 L538.2,277.7 L538.3,276.9 L538.4,276.1 L538.5,275.3 L538.6,274.5 L538.7,273.7 L538.8,272.9 L538.9,272.1 L539.1,271.3 L539.2,270.5 L539.3,269.7 L539.4,269.0 L539.5,268.2 L539.6,267.4 L539.7,266.6 L539.9,265.8 L540.0,265.0 L540.1,264.2 L540.2,263.4 L540.3,262.6 L540.4,261.8 L540.6,261.0 L540.7,260.2 L540.8,259.5 L540.9,258.7 L541.0,257.9 L541.2,257.1 L541.3,256.3 L541.4,255.5 L541.5,254.7 L541.7,253.9 L541.8,253.1 L541.9,252.3 L542.0,251.5 L542.2,250.8 L542.3,250.0 L542.4,249.2 L542.5,248.4 L542.7,247.6 L542.8,246.8 L542.9,246.0 L543.1,245.2 L543.2,244.4 L543.3,243.7 L543.5,242.9 L543.6,242.1 L543.7,241.3 L543.9,240.5 L544.0,239.7 L544.1,238.9 L544.3,238.1 L544.4,237.4 L544.6,236.6 L544.7,235.8 L544.9,235.0 L545.0,234.2 L545.1,233.4 L545.3,232.6 L545.4,231.8 L545.6,231.1 L545.7,230.3 L545.9,229.5 L546.0,228.7 L546.2,227.9 L546.3,227.1 L546.5,226.3 L546.7,225.6 L546.8,224.8 L547.0,224.0 L547.1,223.2 L547.3,222.4 L547.4,221.6 L547.6,220.9 L547.8,220.1 L547.9,219.3 L548.1,218.5 L548.3,217.7 L548.4,216.9 L548.6,216.2 L548.8,215.4 L548.9,214.6 L549.1,213.8 L549.3,213.0 L549.4,212.2 L549.6,211.5 L549.8,210.7 L550.0,209.9 L550.2,209.1 L550.3,208.3 L550.5,207.6 L550.7,206.8 L550.9,206.0 L551.1,205.2 L551.2,204.5 L551.4,203.7 L551.6,202.9 L551.8,202.1 L552.0,201.3 L552.2,200.6 L552.4,199.8 L552.6,199.0 L552.8,198.2 L553.0,197.5 L553.2,196.7 L553.4,195.9 L553.6,195.1 L553.8,194.4 L554.0,193.6 L554.2,192.8 L554.4,192.0 L554.6,191.3 L554.8,190.5 L555.0,189.7 L555.2,189.0 L555.4,188.2 L555.6,187.4 L555.8,186.6 L556.0,185.9 L556.3,185.1 L556.5,184.3 L556.7,183.6 L556.9,182.8 L557.1,182.0 L557.4,181.2 L557.6,180.5 L557.8,179.7 L558.0,178.9 L558.3,178.2 L558.5,177.4 L558.7,176.6 L559.0,175.9 L559.2,175.1 L559.4,174.3 L559.7,173.6 L559.9,172.8 L560.1,172.1 L560.4,171.3 L560.6,170.5 L560.8,169.8 L561.1,169.0 L561.3,168.2 L561.6,167.5 L561.8,166.7 L562.1,166.0 L562.3,165.2 L562.6,164.4 L562.8,163.7 L563.1,162.9 L563.3,162.2 L563.6,161.4 L563.9,160.7 L564.1,159.9 L564.4,159.1 L564.6,158.4 L564.9,157.6 L565.2,156.9 L565.4,156.1 L565.7,155.4 L566.0,154.6 L566.3,153.9 L566.5,153.1 L566.8,152.4 L567.1,151.6 L567.4,150.9 L567.7,150.1 L568.0,149.4 L568.2,148.6 L568.5,147.9 L568.8,147.1 L569.1,146.4 L569.4,145.7 L569.7,144.9 L570.0,144.2 L570.3,143.4 L570.6,142.7 L570.9,141.9 L571.2,141.2 L571.6,140.5 L571.9,139.7 L572.2,139.0 L572.5,138.3 L572.8,137.5 L573.2,136.8 L573.5,136.1 L573.8,135.4 L574.1,134.6 L574.5,133.9 L574.8,133.2 L575.2,132.4 L575.5,131.7 L575.8,131.0 L576.2,130.3 L576.5,129.6 L576.9,128.8 L577.2,128.1 L577.6,127.4 L578.0,126.7 L578.3,126.0 L578.7,125.3 L579.1,124.6 L579.4,123.9 L579.8,123.1 L580.2,122.4 L580.6,121.7 L580.9,121.0 L581.3,120.3 L581.7,119.6 L582.1,118.9 L582.5,118.2 L582.9,117.5 L583.3,116.8 L583.7,116.2 L584.1,115.5 L584.5,114.8 L584.9,114.1 L585.3,113.4 L585.7,112.7 L586.2,112.0 L586.6,111.4 L587.0,110.7 L587.4,110.0 L587.9,109.3 L588.3,108.7 L588.7,108.0 L589.2,107.3 L589.6,106.6 L590.1,106.0 L590.5,105.3 L591.0,104.7 L591.4,104.0 L591.9,103.4 L592.3,102.7 L592.8,102.0 L593.3,101.4 L593.7,100.8 L594.2,100.1 L594.7,99.5 L595.2,98.8 L595.7,98.2 L596.1,97.6 L596.6,96.9 L597.1,96.3 L597.6,95.7 L598.1,95.0 L598.6,94.4 L599.1,93.8 L599.7,93.2 L600.2,92.6 L600.7,92.0 L601.2,91.4 L601.7,90.8 L602.3,90.1 L602.8,89.6 L603.3,89.0 L603.9,88.4 L604.4,87.8 L604.9,87.2 L605.5,86.6 L606.0,86.0 L606.6,85.5 L607.2,84.9 L607.7,84.3 L608.3,83.7 L608.9,83.2 L609.4,82.6 L610.0,82.1 L610.6,81.5 L611.2,81.0 L611.8,80.4 L612.3,79.9 L612.9,79.3 L613.5,78.8 L614.1,78.3 L614.7,77.8 L615.3,77.2 L616.0,76.7 L616.6,76.2 L617.2,75.7 L617.8,75.2 L618.4,74.7 L619.1,74.2 L619.7,73.7 L620.3,73.2 L621.0,72.7 L621.6,72.2 L622.2,71.8 L622.9,71.3 L623.5,70.8 L624.2,70.4 L624.8,69.9 L625.5,69.4 L626.1,69.0 L626.8,68.5 L627.5,68.1 L628.1,67.6 L628.8,67.2 L629.5,66.8 L630.2,66.3 L630.8,65.9 L631.5,65.5 L632.2,65.1 L632.9,64.7 L633.6,64.3 L634.3,63.8 L634.9,63.4 L635.6,63.0 L636.3,62.6 L637.0,62.3 L637.7,61.9 L638.4,61.5 L639.1,61.1 L639.8,60.7 L640.5,60.4 L641.3,60.0 L642.0,59.6 L642.7,59.3 L643.4,58.9 L644.1,58.6 L644.8,58.2 L645.6,57.9 L646.3,57.5 L647.0,57.2 L647.7,56.8 L648.5,56.5 L649.2,56.2 L649.9,55.8 L650.6,55.5 L651.4,55.2 L652.1,54.9 L652.9,54.6 L653.6,54.3 L654.3,54.0 L655.1,53.7 L655.8,53.4 L656.6,53.1 L657.3,52.8 L658.0,52.5 L658.8,52.2 L659.5,51.9 L660.3,51.6 L661.0,51.3 L661.8,51.1 L662.5,50.8 L663.3,50.5 L664.0,50.2 L664.8,50.0 L665.6,49.7 L666.3,49.5 L667.1,49.2 L667.8,48.9 L668.6,48.7 L669.3,48.4 L670.1,48.2 L670.9,47.9 L671.6,47.7 L672.4,47.5 L673.2,47.2 L673.9,47.0 L674.7,46.8 L675.5,46.5 L676.2,46.3 L677.0,46.1 L677.8,45.8 L678.5,45.6" fill="none" stroke="#ff0000" stroke-width="2.45" stroke-linejoin="round"/>
<rect x="308.7" y="49.5" width="152" height="86.6" fill="#fff" stroke="#4a4a4a" stroke-width="1.1"/>
<path d="M319.2,74H369" stroke="#ff0000" stroke-width="2.6" stroke-linecap="round"/>
<path d="M319.15,115.4H370" stroke="#0000ff" stroke-width="2.5" stroke-dasharray="8.7 11.9" stroke-linecap="round"/>
<text class="se"><tspan font-size="29.5" x="374.6" y="82.0">r</tspan><tspan font-size="22" x="383.6" y="89.4">yy</tspan><tspan font-size="23" x="406.3" y="82.0">&amp;</tspan><tspan font-size="29.5" x="424.2" y="82.0">r</tspan><tspan font-size="22" x="433.6" y="89.4">xx</tspan></text>
<text class="se"><tspan font-size="29.5" x="375.4" y="123.7">r</tspan><tspan font-size="22" x="384.7" y="130.9">xy</tspan><tspan font-size="23" x="407.1" y="123.7">&amp;</tspan><tspan font-size="29.5" x="425.0" y="123.7">r</tspan><tspan font-size="22" x="434.4" y="130.9">yx</tspan></text>
<text class="sa" text-anchor="middle" transform="translate(141.8,484.7) scale(0.955,1)">8</text>
<text class="sa" text-anchor="middle" transform="translate(231.3,484.7) scale(0.955,1)">10</text>
<text class="sa" text-anchor="middle" transform="translate(320.7,484.7) scale(0.955,1)">12</text>
<text class="sa" text-anchor="middle" transform="translate(410.2,484.7) scale(0.955,1)">14</text>
<text class="sa" text-anchor="middle" transform="translate(499.6,484.7) scale(0.955,1)">16</text>
<text class="sa" text-anchor="middle" transform="translate(589.1,484.7) scale(0.955,1)">18</text>
<text class="sa" text-anchor="middle" transform="translate(678.5,484.7) scale(0.955,1)">20</text>
<text class="sa" text-anchor="end" transform="translate(88.2,28.6) scale(0.955,1)">0</text>
<text class="sa" text-anchor="end" transform="translate(88.2,82.7) scale(0.955,1)">-5</text>
<text class="sa" text-anchor="end" transform="translate(88.2,136.7) scale(0.955,1)">-10</text>
<text class="sa" text-anchor="end" transform="translate(88.2,190.8) scale(0.955,1)">-15</text>
<text class="sa" text-anchor="end" transform="translate(88.2,244.8) scale(0.955,1)">-20</text>
<text class="sa" text-anchor="end" transform="translate(88.2,298.9) scale(0.955,1)">-25</text>
<text class="sa" text-anchor="end" transform="translate(88.2,353.0) scale(0.955,1)">-30</text>
<text class="sa" text-anchor="end" transform="translate(88.2,407.0) scale(0.955,1)">-35</text>
<text class="sa" text-anchor="end" transform="translate(88.2,461.1) scale(0.955,1)">-40</text>
<text class="se" font-size="36" text-anchor="middle" transform="translate(387.5,537.4) scale(1.015,1)">Frequency(GHz)</text>
<text class="se" font-size="34" text-anchor="middle" transform="translate(30.8,248.6) rotate(-90) scale(1.064,1)">Reflection(dB)</text>
<text class="se" font-size="30" text-anchor="middle" x="404" y="586">(a)</text>
<path d="M841.77,16.0V449.9M931.31,16.0V449.9M1020.85,16.0V449.9M1110.38,16.0V449.9M1199.92,16.0V449.9M1289.46,16.0V449.9M797.0,363.12H1379.0M797.0,276.34H1379.0M797.0,189.56H1379.0M797.0,102.78H1379.0" stroke="#777" stroke-width="1.05" stroke-dasharray="5.4 5" fill="none"/>
<path d="M841.77,449.9v-8.5M841.77,16.0v8.5M931.31,449.9v-8.5M931.31,16.0v8.5M1020.85,449.9v-8.5M1020.85,16.0v8.5M1110.38,449.9v-8.5M1110.38,16.0v8.5M1199.92,449.9v-8.5M1199.92,16.0v8.5M1289.46,449.9v-8.5M1289.46,16.0v8.5M886.54,449.9v-4.5M886.54,16.0v4.5M976.08,449.9v-4.5M976.08,16.0v4.5M1065.62,449.9v-4.5M1065.62,16.0v4.5M1155.15,449.9v-4.5M1155.15,16.0v4.5M1244.69,449.9v-4.5M1244.69,16.0v4.5M1334.23,449.9v-4.5M1334.23,16.0v4.5M797.0,363.12h8.5M1379.0,363.12h-8.5M797.0,276.34h8.5M1379.0,276.34h-8.5M797.0,189.56h8.5M1379.0,189.56h-8.5M797.0,102.78h8.5M1379.0,102.78h-8.5M797.0,406.51h4.5M1379.0,406.51h-4.5M797.0,319.73h4.5M1379.0,319.73h-4.5M797.0,232.95h4.5M1379.0,232.95h-4.5M797.0,146.17h4.5M1379.0,146.17h-4.5M797.0,59.39h4.5M1379.0,59.39h-4.5" stroke="#000" stroke-width="1.5" fill="none"/>
<rect x="797.0" y="16.0" width="582.0" height="433.9" fill="none" stroke="#000" stroke-width="1.6"/>
<path d="M797.0,442.0 L797.8,441.7 L798.5,441.5 L799.3,441.2 L800.0,440.9 L800.8,440.7 L801.5,440.4 L802.3,440.1 L803.0,439.8 L803.8,439.5 L804.5,439.2 L805.2,438.9 L806.0,438.5 L806.7,438.2 L807.4,437.9 L808.1,437.5 L808.8,437.1 L809.5,436.8 L810.2,436.4 L810.9,436.0 L811.6,435.6 L812.3,435.2 L813.0,434.8 L813.7,434.3 L814.4,433.9 L815.0,433.5 L815.7,433.0 L816.3,432.5 L817.0,432.1 L817.6,431.6 L818.2,431.1 L818.9,430.6 L819.5,430.1 L820.1,429.6 L820.7,429.1 L821.3,428.5 L821.9,428.0 L822.5,427.4 L823.0,426.9 L823.6,426.3 L824.2,425.7 L824.7,425.2 L825.3,424.6 L825.8,424.0 L826.3,423.4 L826.9,422.8 L827.4,422.2 L827.9,421.5 L828.4,420.9 L828.9,420.3 L829.4,419.6 L829.8,419.0 L830.3,418.4 L830.8,417.7 L831.2,417.0 L831.7,416.4 L832.1,415.7 L832.6,415.0 L833.0,414.4 L833.4,413.7 L833.8,413.0 L834.2,412.3 L834.6,411.6 L835.0,410.9 L835.4,410.2 L835.8,409.5 L836.2,408.8 L836.6,408.1 L837.0,407.4 L837.3,406.7 L837.7,406.0 L838.0,405.3 L838.4,404.6 L838.7,403.9 L839.1,403.1 L839.4,402.4 L839.8,401.7 L840.1,401.0 L840.4,400.2 L840.7,399.5 L841.1,398.8 L841.4,398.0 L841.7,397.3 L842.0,396.5 L842.3,395.8 L842.6,395.1 L842.9,394.3 L843.2,393.6 L843.5,392.8 L843.7,392.1 L844.0,391.3 L844.3,390.6 L844.6,389.8 L844.8,389.1 L845.1,388.3 L845.4,387.6 L845.6,386.8 L845.9,386.0 L846.2,385.3 L846.4,384.5 L846.7,383.8 L846.9,383.0 L847.2,382.3 L847.4,381.5 L847.6,380.7 L847.9,380.0 L848.1,379.2 L848.4,378.4 L848.6,377.7 L848.8,376.9 L849.0,376.1 L849.3,375.4 L849.5,374.6 L849.7,373.8 L849.9,373.1 L850.1,372.3 L850.4,371.5 L850.6,370.8 L850.8,370.0 L851.0,369.2 L851.2,368.4 L851.4,367.7 L851.6,366.9 L851.8,366.1 L852.0,365.3 L852.2,364.6 L852.4,363.8 L852.6,363.0 L852.8,362.2 L853.0,361.5 L853.2,360.7 L853.4,359.9 L853.6,359.1 L853.8,358.4 L854.0,357.6 L854.1,356.8 L854.3,356.0 L854.5,355.2 L854.7,354.5 L854.9,353.7 L855.0,352.9 L855.2,352.1 L855.4,351.3 L855.6,350.6 L855.7,349.8 L855.9,349.0 L856.1,348.2 L856.3,347.4 L856.4,346.7 L856.6,345.9 L856.8,345.1 L856.9,344.3 L857.1,343.5 L857.3,342.7 L857.4,342.0 L857.6,341.2 L857.7,340.4 L857.9,339.6 L858.1,338.8 L858.2,338.0 L858.4,337.3 L858.5,336.5 L858.7,335.7 L858.8,334.9 L859.0,334.1 L859.2,333.3 L859.3,332.5 L859.5,331.8 L859.6,331.0 L859.8,330.2 L859.9,329.4 L860.1,328.6 L860.2,327.8 L860.3,327.0 L860.5,326.3 L860.6,325.5 L860.8,324.7 L860.9,323.9 L861.1,323.1 L861.2,322.3 L861.3,321.5 L861.5,320.7 L861.6,320.0 L861.8,319.2 L861.9,318.4 L862.0,317.6 L862.2,316.8 L862.3,316.0 L862.5,315.2 L862.6,314.4 L862.7,313.7 L862.9,312.9 L863.0,312.1 L863.1,311.3 L863.3,310.5 L863.4,309.7 L863.5,308.9 L863.7,308.1 L863.8,307.3 L863.9,306.6 L864.0,305.8 L864.2,305.0 L864.3,304.2 L864.4,303.4 L864.6,302.6 L864.7,301.8 L864.8,301.0 L864.9,300.2 L865.1,299.4 L865.2,298.7 L865.3,297.9 L865.4,297.1 L865.6,296.3 L865.7,295.5 L865.8,294.7 L865.9,293.9 L866.1,293.1 L866.2,292.3 L866.3,291.5 L866.4,290.7 L866.5,290.0 L866.7,289.2 L866.8,288.4 L866.9,287.6 L867.0,286.8 L867.1,286.0 L867.2,285.2 L867.4,284.4 L867.5,283.6 L867.6,282.8 L867.7,282.0 L867.8,281.3 L868.0,280.5 L868.1,279.7 L868.2,278.9 L868.3,278.1 L868.4,277.3 L868.5,276.5 L868.6,275.7 L868.8,274.9 L868.9,274.1 L869.0,273.3 L869.1,272.5 L869.2,271.8 L869.3,271.0 L869.4,270.2 L869.5,269.4 L869.6,268.6 L869.8,267.8 L869.9,267.0 L870.0,266.2 L870.1,265.4 L870.2,264.6 L870.3,263.8 L870.4,263.0 L870.5,262.2 L870.6,261.5 L870.7,260.7 L870.8,259.9 L871.0,259.1 L871.1,258.3 L871.2,257.5 L871.3,256.7 L871.4,255.9 L871.5,255.1 L871.6,254.3 L871.7,253.5 L871.8,252.7 L871.9,251.9 L872.0,251.1 L872.1,250.4 L872.2,249.6 L872.3,248.8 L872.4,248.0 L872.5,247.2 L872.6,246.4 L872.8,245.6 L872.9,244.8 L873.0,244.0 L873.1,243.2 L873.2,242.4 L873.3,241.6 L873.4,240.8 L873.5,240.0 L873.6,239.2 L873.7,238.5 L873.8,237.7 L873.9,236.9 L874.0,236.1 L874.1,235.3 L874.2,234.5 L874.3,233.7 L874.4,232.9 L874.5,232.1 L874.6,231.3 L874.7,230.5 L874.8,229.7 L874.9,228.9 L875.0,228.1 L875.1,227.3 L875.2,226.5 L875.3,225.8 L875.4,225.0 L875.5,224.2 L875.6,223.4 L875.7,222.6 L875.8,221.8 L875.9,221.0 L876.0,220.2 L876.1,219.4 L876.2,218.6 L876.3,217.8 L876.4,217.0 L876.5,216.2 L876.6,215.4 L876.7,214.6 L876.8,213.8 L876.9,213.1 L877.0,212.3 L877.0,211.5 L877.1,210.7 L877.2,209.9 L877.3,209.1 L877.4,208.3 L877.5,207.5 L877.6,206.7 L877.7,205.9 L877.8,205.1 L877.9,204.3 L878.0,203.5 L878.1,202.7 L878.2,201.9 L878.3,201.1 L878.4,200.3 L878.5,199.5 L878.6,198.8 L878.7,198.0 L878.8,197.2 L878.9,196.4 L879.0,195.6 L879.1,194.8 L879.2,194.0 L879.2,193.2 L879.3,192.4 L879.4,191.6 L879.5,190.8 L879.6,190.0 L879.7,189.2 L879.8,188.4 L879.9,187.6 L880.0,186.8 L880.1,186.0 L880.2,185.2 L880.3,184.5 L880.4,183.7 L880.5,182.9 L880.6,182.1 L880.7,181.3 L880.8,180.5 L880.8,179.7 L880.9,178.9 L881.0,178.1 L881.1,177.3 L881.2,176.5 L881.3,175.7 L881.4,174.9 L881.5,174.1 L881.6,173.3 L881.7,172.5 L881.8,171.7 L881.9,170.9 L882.0,170.2 L882.1,169.4 L882.1,168.6 L882.2,167.8 L882.3,167.0 L882.4,166.2 L882.5,165.4 L882.6,164.6 L882.7,163.8 L882.8,163.0 L882.9,162.2 L883.0,161.4 L883.1,160.6 L883.2,159.8 L883.3,159.0 L883.4,158.2 L883.4,157.4 L883.5,156.6 L883.6,155.9 L883.7,155.1 L883.8,154.3 L883.9,153.5 L884.0,152.7 L884.1,151.9 L884.2,151.1 L884.3,150.3 L884.4,149.5 L884.5,148.7 L884.6,147.9 L884.7,147.1 L884.8,146.3 L884.9,145.5 L884.9,144.7 L885.0,143.9 L885.1,143.1 L885.2,142.3 L885.3,141.5 L885.4,140.8 L885.5,140.0 L885.6,139.2 L885.7,138.4 L885.8,137.6 L885.9,136.8 L886.0,136.0 L886.1,135.2 L886.2,134.4 L886.3,133.6 L886.4,132.8 L886.5,132.0 L886.6,131.2 L886.7,130.4 L886.8,129.6 L886.8,128.8 L886.9,128.0 L887.0,127.3 L887.1,126.5 L887.2,125.7 L887.3,124.9 L887.4,124.1 L887.5,123.3 L887.6,122.5 L887.7,121.7 L887.8,120.9 L887.9,120.1 L888.0,119.3 L888.1,118.5 L888.2,117.7 L888.3,116.9 L888.4,116.1 L888.5,115.3 L888.6,114.6 L888.7,113.8 L888.8,113.0 L888.9,112.2 L889.0,111.4 L889.1,110.6 L889.2,109.8 L889.3,109.0 L889.4,108.2 L889.5,107.4 L889.6,106.6 L889.7,105.8 L889.9,105.0 L890.0,104.2 L890.1,103.4 L890.2,102.7 L890.3,101.9 L890.4,101.1 L890.5,100.3 L890.6,99.5 L890.7,98.7 L890.8,97.9 L890.9,97.1 L891.0,96.3 L891.1,95.5 L891.2,94.7 L891.4,93.9 L891.5,93.1 L891.6,92.3 L891.7,91.6 L891.8,90.8 L891.9,90.0 L892.0,89.2 L892.1,88.4 L892.3,87.6 L892.4,86.8 L892.5,86.0 L892.6,85.2 L892.7,84.4 L892.8,83.6 L893.0,82.8 L893.1,82.1 L893.2,81.3 L893.3,80.5 L893.4,79.7 L893.6,78.9 L893.7,78.1 L893.8,77.3 L893.9,76.5 L894.1,75.7 L894.2,74.9 L894.3,74.2 L894.4,73.4 L894.6,72.6 L894.7,71.8 L894.8,71.0 L895.0,70.2 L895.1,69.4 L895.2,68.6 L895.4,67.8 L895.5,67.0 L895.6,66.3 L895.8,65.5 L895.9,64.7 L896.0,63.9 L896.2,63.1 L896.3,62.3 L896.5,61.5 L896.6,60.7 L896.8,60.0 L896.9,59.2 L897.1,58.4 L897.2,57.6 L897.4,56.8 L897.5,56.0 L897.7,55.3 L897.8,54.5 L898.0,53.7 L898.2,52.9 L898.3,52.1 L898.5,51.3 L898.7,50.6 L898.8,49.8 L899.0,49.0 L899.2,48.2 L899.4,47.4 L899.5,46.7 L899.7,45.9 L899.9,45.1 L900.1,44.3 L900.3,43.5 L900.5,42.8 L900.7,42.0 L900.9,41.2 L901.1,40.4 L901.3,39.7 L901.5,38.9 L901.7,38.1 L901.9,37.4 L902.2,36.6 L902.4,35.8 L902.6,35.1 L902.9,34.3 L903.1,33.5 L903.4,32.8 L903.6,32.0 L903.9,31.3 L904.2,30.5 L904.5,29.8 L904.8,29.0 L905.1,28.3 L905.4,27.5 L905.7,26.8 L906.0,26.1 L906.4,25.4 L906.8,24.7 L907.1,24.0 L907.5,23.3 L908.0,22.6 L908.4,21.9 L908.9,21.3 L909.4,20.7 L910.0,20.1 L910.6,19.6 L911.2,19.1 L911.9,18.6 L912.6,18.3 L913.4,18.1 L914.2,18.0 L914.5,17.9 L915.0,17.9 L915.7,18.0 L916.5,18.2 L917.3,18.5 L918.0,18.8 L918.7,19.1 L919.4,19.6 L920.1,20.0 L920.7,20.5 L921.4,21.0 L922.0,21.5 L922.6,22.0 L923.1,22.6 L923.7,23.1 L924.3,23.7 L924.8,24.3 L925.4,24.8 L925.9,25.4 L926.5,26.0 L927.0,26.6 L927.5,27.2 L928.1,27.8 L928.6,28.4 L929.1,29.0 L929.6,29.7 L930.1,30.3 L930.6,30.9 L931.1,31.5 L931.7,32.1 L932.2,32.7 L932.7,33.3 L933.2,34.0 L933.7,34.6 L934.2,35.2 L934.7,35.8 L935.2,36.4 L935.8,37.0 L936.3,37.6 L936.8,38.2 L937.3,38.8 L937.8,39.5 L938.4,40.1 L938.9,40.6 L939.4,41.2 L940.0,41.8 L940.5,42.4 L941.1,43.0 L941.6,43.6 L942.2,44.2 L942.7,44.7 L943.3,45.3 L943.9,45.9 L944.5,46.4 L945.0,47.0 L945.6,47.5 L946.2,48.0 L946.8,48.6 L947.4,49.1 L948.1,49.6 L948.7,50.1 L949.3,50.6 L950.0,51.1 L950.6,51.5 L951.3,52.0 L951.9,52.4 L952.6,52.9 L953.3,53.3 L954.0,53.7 L954.7,54.1 L955.4,54.5 L956.1,54.8 L956.8,55.2 L957.5,55.5 L958.3,55.8 L959.0,56.1 L959.8,56.3 L960.5,56.6 L961.3,56.8 L962.1,57.0 L962.9,57.1 L963.7,57.3 L964.5,57.4 L965.2,57.5 L966.0,57.6 L966.8,57.6 L967.6,57.6 L968.0,57.6 L968.4,57.6 L969.2,57.6 L970.0,57.6 L970.8,57.5 L971.6,57.4 L972.4,57.3 L973.2,57.2 L974.0,57.0 L974.8,56.8 L975.6,56.7 L976.3,56.5 L977.1,56.2 L977.9,56.0 L978.6,55.7 L979.4,55.5 L980.1,55.2 L980.9,54.9 L981.6,54.6 L982.4,54.3 L983.1,54.0 L983.8,53.7 L984.5,53.3 L985.3,53.0 L986.0,52.6 L986.7,52.3 L987.4,51.9 L988.1,51.5 L988.8,51.1 L989.5,50.7 L990.2,50.4 L990.9,50.0 L991.6,49.6 L992.3,49.2 L993.0,48.7 L993.7,48.3 L994.3,47.9 L995.0,47.5 L995.7,47.1 L996.4,46.7 L997.1,46.2 L997.7,45.8 L998.4,45.4 L999.1,44.9 L999.8,44.5 L1000.4,44.1 L1001.1,43.6 L1001.8,43.2 L1002.4,42.7 L1003.1,42.3 L1003.8,41.9 L1004.4,41.4 L1005.1,41.0 L1005.8,40.5 L1006.4,40.1 L1007.1,39.6 L1007.7,39.2 L1008.4,38.7 L1009.1,38.3 L1009.7,37.8 L1010.4,37.4 L1011.0,36.9 L1011.7,36.5 L1012.4,36.0 L1013.0,35.6 L1013.7,35.1 L1014.4,34.7 L1015.0,34.2 L1015.7,33.8 L1016.4,33.3 L1017.0,32.9 L1017.7,32.5 L1018.4,32.0 L1019.0,31.6 L1019.7,31.2 L1020.4,30.7 L1021.1,30.3 L1021.7,29.9 L1022.4,29.5 L1023.1,29.0 L1023.8,28.6 L1024.5,28.2 L1025.1,27.8 L1025.8,27.4 L1026.5,27.0 L1027.2,26.6 L1027.9,26.2 L1028.6,25.8 L1029.3,25.4 L1030.0,25.0 L1030.7,24.6 L1031.4,24.3 L1032.1,23.9 L1032.8,23.5 L1033.6,23.2 L1034.3,22.8 L1035.0,22.5 L1035.7,22.1 L1036.4,21.8 L1037.2,21.4 L1037.9,21.1 L1038.6,20.8 L1039.4,20.5 L1040.1,20.2 L1040.9,19.9 L1041.6,19.6 L1042.4,19.3 L1043.1,19.1 L1043.9,18.8 L1044.6,18.6 L1045.4,18.3 L1046.2,18.1 L1046.9,17.9 L1047.7,17.7 L1048.5,17.5 L1049.3,17.3 L1050.0,17.1 L1050.8,17.0 L1051.6,16.8 L1052.4,16.7 L1053.2,16.6 L1054.0,16.4 L1054.8,16.3 L1055.6,16.2 L1056.4,16.2 L1057.2,16.1 L1058.0,16.1 L1058.8,16.0 L1059.6,16.0 L1060.4,16.0 L1060.5,16.0 L1061.2,16.0 L1062.0,16.0 L1062.8,16.0 L1063.6,16.1 L1064.4,16.1 L1065.1,16.2 L1065.9,16.3 L1066.7,16.4 L1067.5,16.5 L1068.3,16.6 L1069.1,16.8 L1069.9,16.9 L1070.7,17.0 L1071.5,17.2 L1072.2,17.4 L1073.0,17.6 L1073.8,17.8 L1074.6,18.0 L1075.4,18.2 L1076.1,18.4 L1076.9,18.6 L1077.7,18.8 L1078.4,19.1 L1079.2,19.3 L1079.9,19.6 L1080.7,19.8 L1081.4,20.1 L1082.2,20.4 L1082.9,20.7 L1083.7,21.0 L1084.4,21.2 L1085.2,21.5 L1085.9,21.8 L1086.7,22.1 L1087.4,22.5 L1088.1,22.8 L1088.9,23.1 L1089.6,23.4 L1090.3,23.7 L1091.1,24.1 L1091.8,24.4 L1092.5,24.7 L1093.2,25.1 L1094.0,25.4 L1094.7,25.8 L1095.4,26.1 L1096.1,26.4 L1096.9,26.8 L1097.6,27.1 L1098.3,27.5 L1099.0,27.8 L1099.7,28.2 L1100.5,28.5 L1101.2,28.9 L1101.9,29.2 L1102.6,29.5 L1103.4,29.9 L1104.1,30.2 L1104.8,30.6 L1105.5,30.9 L1106.2,31.2 L1107.0,31.6 L1107.7,31.9 L1108.4,32.2 L1109.2,32.6 L1109.9,32.9 L1110.6,33.2 L1111.4,33.5 L1112.1,33.8 L1112.8,34.2 L1113.6,34.5 L1114.3,34.8 L1115.1,35.1 L1115.8,35.4 L1116.5,35.6 L1117.3,35.9 L1118.0,36.2 L1118.8,36.5 L1119.6,36.8 L1120.3,37.0 L1121.1,37.3 L1121.8,37.5 L1122.6,37.8 L1123.3,38.0 L1124.1,38.3 L1124.9,38.5 L1125.6,38.7 L1126.4,38.9 L1127.2,39.1 L1128.0,39.4 L1128.7,39.6 L1129.5,39.7 L1130.3,39.9 L1131.1,40.1 L1131.8,40.3 L1132.6,40.5 L1133.4,40.6 L1134.2,40.8 L1135.0,40.9 L1135.8,41.0 L1136.6,41.2 L1137.4,41.3 L1138.1,41.4 L1138.9,41.5 L1139.7,41.6 L1140.5,41.7 L1141.3,41.8 L1142.1,41.8 L1142.9,41.9 L1143.7,41.9 L1144.5,42.0 L1145.3,42.0 L1146.1,42.0 L1146.9,42.0 L1147.3,42.0 L1147.7,42.0 L1148.5,42.0 L1149.3,42.0 L1150.1,42.0 L1150.9,41.9 L1151.7,41.9 L1152.5,41.8 L1153.3,41.7 L1154.1,41.6 L1154.9,41.5 L1155.7,41.4 L1156.5,41.3 L1157.3,41.2 L1158.1,41.1 L1158.8,40.9 L1159.6,40.8 L1160.4,40.6 L1161.2,40.4 L1162.0,40.3 L1162.8,40.1 L1163.5,39.9 L1164.3,39.7 L1165.1,39.5 L1165.8,39.2 L1166.6,39.0 L1167.4,38.8 L1168.1,38.5 L1168.9,38.3 L1169.7,38.0 L1170.4,37.8 L1171.2,37.5 L1171.9,37.3 L1172.7,37.0 L1173.4,36.7 L1174.2,36.4 L1174.9,36.1 L1175.7,35.8 L1176.4,35.5 L1177.2,35.2 L1177.9,34.9 L1178.6,34.6 L1179.4,34.3 L1180.1,34.0 L1180.8,33.7 L1181.6,33.4 L1182.3,33.1 L1183.0,32.7 L1183.8,32.4 L1184.5,32.1 L1185.2,31.8 L1186.0,31.4 L1186.7,31.1 L1187.4,30.8 L1188.2,30.5 L1188.9,30.1 L1189.6,29.8 L1190.3,29.5 L1191.1,29.1 L1191.8,28.8 L1192.5,28.5 L1193.2,28.1 L1194.0,27.8 L1194.7,27.4 L1195.4,27.1 L1196.1,26.7 L1196.9,26.4 L1197.6,26.0 L1198.3,25.7 L1199.0,25.3 L1199.7,25.0 L1200.4,24.6 L1201.1,24.2 L1201.9,23.9 L1202.6,23.5 L1203.3,23.2 L1204.0,22.8 L1204.7,22.5 L1205.5,22.1 L1206.2,21.8 L1206.9,21.5 L1207.7,21.2 L1208.4,20.9 L1209.1,20.6 L1209.9,20.3 L1210.6,20.0 L1211.4,19.8 L1212.2,19.5 L1212.9,19.3 L1213.7,19.0 L1214.5,18.8 L1215.2,18.6 L1216.0,18.4 L1216.8,18.2 L1217.5,18.0 L1218.3,17.8 L1219.1,17.6 L1219.9,17.4 L1220.7,17.3 L1221.4,17.1 L1222.2,17.0 L1223.0,16.8 L1223.8,16.7 L1224.6,16.6 L1225.4,16.5 L1226.2,16.5 L1227.0,16.4 L1227.8,16.4 L1228.6,16.4 L1228.8,16.4 L1229.4,16.4 L1230.2,16.4 L1231.0,16.4 L1231.8,16.5 L1232.6,16.6 L1233.4,16.7 L1234.2,16.8 L1235.0,16.9 L1235.7,17.1 L1236.5,17.3 L1237.3,17.5 L1238.1,17.7 L1238.8,18.0 L1239.6,18.3 L1240.3,18.5 L1241.1,18.8 L1241.8,19.2 L1242.5,19.5 L1243.2,19.9 L1243.9,20.2 L1244.6,20.6 L1245.3,21.0 L1246.0,21.4 L1246.7,21.9 L1247.4,22.3 L1248.0,22.8 L1248.7,23.2 L1249.3,23.7 L1249.9,24.2 L1250.6,24.7 L1251.2,25.2 L1251.8,25.7 L1252.4,26.2 L1253.0,26.8 L1253.6,27.3 L1254.2,27.9 L1254.7,28.4 L1255.3,29.0 L1255.9,29.6 L1256.4,30.2 L1256.9,30.7 L1257.5,31.3 L1258.0,32.0 L1258.5,32.6 L1259.0,33.2 L1259.5,33.8 L1260.0,34.4 L1260.5,35.1 L1261.0,35.7 L1261.5,36.3 L1261.9,37.0 L1262.4,37.6 L1262.9,38.3 L1263.3,39.0 L1263.8,39.6 L1264.2,40.3 L1264.6,41.0 L1265.1,41.6 L1265.5,42.3 L1265.9,43.0 L1266.3,43.7 L1266.8,44.3 L1267.2,45.0 L1267.6,45.7 L1268.0,46.4 L1268.4,47.1 L1268.8,47.8 L1269.2,48.5 L1269.6,49.2 L1270.0,49.9 L1270.3,50.6 L1270.7,51.3 L1271.1,52.0 L1271.5,52.7 L1271.8,53.4 L1272.2,54.1 L1272.6,54.8 L1273.0,55.5 L1273.3,56.3 L1273.7,57.0 L1274.0,57.7 L1274.4,58.4 L1274.8,59.1 L1275.1,59.8 L1275.5,60.6 L1275.8,61.3 L1276.2,62.0 L1276.5,62.7 L1276.9,63.4 L1277.2,64.2 L1277.5,64.9 L1277.9,65.6 L1278.2,66.3 L1278.6,67.1 L1278.9,67.8 L1279.2,68.5 L1279.6,69.2 L1279.9,70.0 L1280.2,70.7 L1280.5,71.4 L1280.9,72.2 L1281.2,72.9 L1281.5,73.6 L1281.8,74.3 L1282.2,75.1 L1282.5,75.8 L1282.8,76.5 L1283.1,77.3 L1283.4,78.0 L1283.8,78.8 L1284.1,79.5 L1284.4,80.2 L1284.7,81.0 L1285.0,81.7 L1285.3,82.4 L1285.6,83.2 L1285.9,83.9 L1286.2,84.7 L1286.5,85.4 L1286.8,86.1 L1287.1,86.9 L1287.5,87.6 L1287.8,88.4 L1288.1,89.1 L1288.4,89.8 L1288.7,90.6 L1289.0,91.3 L1289.3,92.1 L1289.6,92.8 L1289.8,93.5 L1290.1,94.3 L1290.4,95.0 L1290.7,95.8 L1291.0,96.5 L1291.3,97.3 L1291.6,98.0 L1291.9,98.8 L1292.2,99.5 L1292.5,100.2 L1292.8,101.0 L1293.1,101.7 L1293.4,102.5 L1293.6,103.2 L1293.9,104.0 L1294.2,104.7 L1294.5,105.5 L1294.8,106.2 L1295.1,107.0 L1295.4,107.7 L1295.6,108.5 L1295.9,109.2 L1296.2,110.0 L1296.5,110.7 L1296.8,111.4 L1297.1,112.2 L1297.3,112.9 L1297.6,113.7 L1297.9,114.4 L1298.2,115.2 L1298.5,115.9 L1298.8,116.7 L1299.0,117.4 L1299.3,118.2 L1299.6,118.9 L1299.9,119.7 L1300.2,120.4 L1300.4,121.2 L1300.7,121.9 L1301.0,122.7 L1301.3,123.4 L1301.5,124.2 L1301.8,124.9 L1302.1,125.7 L1302.4,126.4 L1302.7,127.2 L1302.9,127.9 L1303.2,128.7 L1303.5,129.4 L1303.8,130.2 L1304.0,130.9 L1304.3,131.7 L1304.6,132.4 L1304.9,133.2 L1305.1,133.9 L1305.4,134.7 L1305.7,135.4 L1306.0,136.2 L1306.3,136.9 L1306.5,137.7 L1306.8,138.4 L1307.1,139.2 L1307.4,139.9 L1307.6,140.7 L1307.9,141.4 L1308.2,142.2 L1308.5,143.0 L1308.7,143.7 L1309.0,144.5 L1309.3,145.2 L1309.6,146.0 L1309.8,146.7 L1310.1,147.5 L1310.4,148.2 L1310.7,149.0 L1311.0,149.7 L1311.2,150.5 L1311.5,151.2 L1311.8,152.0 L1312.1,152.7 L1312.3,153.5 L1312.6,154.2 L1312.9,155.0 L1313.2,155.7 L1313.5,156.5 L1313.7,157.2 L1314.0,158.0 L1314.3,158.7 L1314.6,159.5 L1314.9,160.2 L1315.1,161.0 L1315.4,161.7 L1315.7,162.5 L1316.0,163.2 L1316.2,164.0 L1316.5,164.7 L1316.8,165.5 L1317.1,166.2 L1317.4,167.0 L1317.7,167.7 L1317.9,168.4 L1318.2,169.2 L1318.5,169.9 L1318.8,170.7 L1319.1,171.4 L1319.3,172.2 L1319.6,172.9 L1319.9,173.7 L1320.2,174.4 L1320.5,175.2 L1320.8,175.9 L1321.1,176.7 L1321.3,177.4 L1321.6,178.2 L1321.9,178.9 L1322.2,179.7 L1322.5,180.4 L1322.8,181.2 L1323.1,181.9 L1323.3,182.7 L1323.6,183.4 L1323.9,184.1 L1324.2,184.9 L1324.5,185.6 L1324.8,186.4 L1325.1,187.1 L1325.4,187.9 L1325.6,188.6 L1325.9,189.4 L1326.2,190.1 L1326.5,190.9 L1326.8,191.6 L1327.1,192.4 L1327.4,193.1 L1327.7,193.8 L1328.0,194.6 L1328.3,195.3 L1328.6,196.1 L1328.9,196.8 L1329.2,197.6 L1329.5,198.3 L1329.8,199.0 L1330.0,199.8 L1330.3,200.5 L1330.6,201.3 L1330.9,202.0 L1331.2,202.8 L1331.5,203.5 L1331.8,204.2 L1332.1,205.0 L1332.4,205.7 L1332.7,206.5 L1333.0,207.2 L1333.3,208.0 L1333.6,208.7 L1333.9,209.4 L1334.3,210.2 L1334.6,210.9 L1334.9,211.7 L1335.2,212.4 L1335.5,213.1 L1335.8,213.9 L1336.1,214.6 L1336.4,215.3 L1336.7,216.1 L1337.0,216.8 L1337.3,217.6 L1337.6,218.3 L1337.9,219.0 L1338.3,219.8 L1338.6,220.5 L1338.9,221.2 L1339.2,222.0 L1339.5,222.7 L1339.8,223.4 L1340.1,224.2 L1340.5,224.9 L1340.8,225.7 L1341.1,226.4 L1341.4,227.1 L1341.7,227.9 L1342.0,228.6 L1342.4,229.3 L1342.7,230.1 L1343.0,230.8 L1343.3,231.5 L1343.7,232.2 L1344.0,233.0 L1344.3,233.7 L1344.6,234.4 L1345.0,235.2 L1345.3,235.9 L1345.6,236.6 L1346.0,237.4 L1346.3,238.1 L1346.6,238.8 L1347.0,239.5 L1347.3,240.3 L1347.6,241.0 L1348.0,241.7 L1348.3,242.4 L1348.6,243.2 L1349.0,243.9 L1349.3,244.6 L1349.7,245.3 L1350.0,246.1 L1350.3,246.8 L1350.7,247.5 L1351.0,248.2 L1351.4,249.0 L1351.7,249.7 L1352.1,250.4 L1352.4,251.1 L1352.8,251.8 L1353.1,252.5 L1353.5,253.3 L1353.8,254.0 L1354.2,254.7 L1354.5,255.4 L1354.9,256.1 L1355.3,256.8 L1355.6,257.6 L1356.0,258.3 L1356.4,259.0 L1356.7,259.7 L1357.1,260.4 L1357.4,261.1 L1357.8,261.8 L1358.2,262.5 L1358.6,263.3 L1358.9,264.0 L1359.3,264.7 L1359.7,265.4 L1360.1,266.1 L1360.4,266.8 L1360.8,267.5 L1361.2,268.2 L1361.6,268.9 L1362.0,269.6 L1362.3,270.3 L1362.7,271.0 L1363.1,271.7 L1363.5,272.4 L1363.9,273.1 L1364.3,273.8 L1364.7,274.5 L1365.1,275.2 L1365.5,275.9 L1365.9,276.6 L1366.3,277.3 L1366.7,278.0 L1367.1,278.7 L1367.5,279.3 L1367.9,280.0 L1368.3,280.7 L1368.7,281.4 L1369.1,282.1 L1369.5,282.8 L1369.9,283.5 L1370.3,284.2 L1370.8,284.8 L1371.2,285.5 L1371.6,286.2 L1372.0,286.9 L1372.4,287.6 L1372.8,288.2 L1373.3,288.9 L1373.7,289.6 L1374.1,290.3 L1374.6,291.0 L1375.0,291.6 L1375.4,292.3 L1375.8,293.0 L1376.3,293.6 L1376.7,294.3 L1377.2,295.0 L1377.6,295.7 L1378.0,296.3 L1378.5,297.0 L1378.9,297.7 L1379.0,297.8" fill="none" stroke="#ff0000" stroke-width="2.45" stroke-linejoin="round"/>
<text class="sa" text-anchor="middle" transform="translate(841.8,481.7) scale(0.955,1)">8</text>
<text class="sa" text-anchor="middle" transform="translate(931.3,481.7) scale(0.955,1)">10</text>
<text class="sa" text-anchor="middle" transform="translate(1020.8,481.7) scale(0.955,1)">12</text>
<text class="sa" text-anchor="middle" transform="translate(1110.4,481.7) scale(0.955,1)">14</text>
<text class="sa" text-anchor="middle" transform="translate(1199.9,481.7) scale(0.955,1)">16</text>
<text class="sa" text-anchor="middle" transform="translate(1289.5,481.7) scale(0.955,1)">18</text>
<text class="sa" text-anchor="middle" transform="translate(1379.0,481.7) scale(0.955,1)">20</text>
<text class="sa" text-anchor="end" transform="translate(788.2,458.5) scale(0.955,1)">0.0</text>
<text class="sa" text-anchor="end" transform="translate(788.2,371.7) scale(0.955,1)">0.2</text>
<text class="sa" text-anchor="end" transform="translate(788.2,284.9) scale(0.955,1)">0.4</text>
<text class="sa" text-anchor="end" transform="translate(788.2,198.2) scale(0.955,1)">0.6</text>
<text class="sa" text-anchor="end" transform="translate(788.2,111.4) scale(0.955,1)">0.8</text>
<text class="sa" text-anchor="end" transform="translate(788.2,24.6) scale(0.955,1)">1.0</text>
<text class="se" font-size="36" text-anchor="middle" transform="translate(1088,534) scale(1.015,1)">Frequency(GHz)</text>
<text class="se" font-size="35.3" text-anchor="middle" transform="translate(732.2,247.8) rotate(-90) scale(1.06,1)">PCR</text>
<text class="se" font-size="30" text-anchor="middle" x="1053.3" y="586">(b)</text>
</svg>
</body></html>
